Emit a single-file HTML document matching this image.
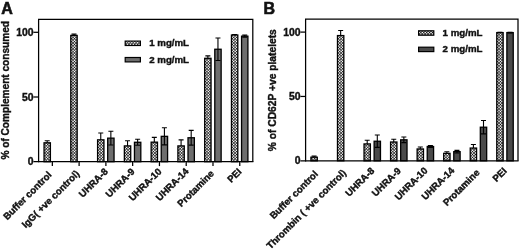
<!DOCTYPE html>
<html><head><meta charset="utf-8"><title>Figure</title>
<style>
html,body{margin:0;padding:0;background:#fff;}
body{width:520px;height:249px;overflow:hidden;}
svg{display:block;}
text{font-family:"Liberation Sans",Arial,sans-serif;font-weight:bold;fill:#111;stroke:#111;stroke-width:0.4px;}
.t{font-size:10.4px;}
.x{font-size:9.65px;}
.y{font-size:10px;}
.g{font-size:9.7px;}
.L{font-size:16px;stroke-width:0.6px;}
</style></head><body>
<svg width="520" height="249" viewBox="0 0 520 249">
<defs>

</defs>
<rect width="520" height="249" fill="#fff"/>
<path d="M47.21 140.74V144.88M44.71 140.74H49.71M44.71 144.88H49.71" stroke="#000" stroke-width="1.1" fill="none"/>
<clipPath id="c1"><rect x="44.04" y="142.81" width="6.35" height="18.89"/></clipPath><rect x="44.04" y="142.81" width="6.35" height="18.89" fill="#111"/><path clip-path="url(#c1)" d="M43.84 143.02l1 -1l1 1l-1 1zM46.74 143.02l1 -1l1 1l-1 1zM49.64 143.02l1 -1l1 1l-1 1zM42.39 144.45l1 -1l1 1l-1 1zM45.29 144.45l1 -1l1 1l-1 1zM48.19 144.45l1 -1l1 1l-1 1zM43.84 145.88l1 -1l1 1l-1 1zM46.74 145.88l1 -1l1 1l-1 1zM49.64 145.88l1 -1l1 1l-1 1zM42.39 147.31l1 -1l1 1l-1 1zM45.29 147.31l1 -1l1 1l-1 1zM48.19 147.31l1 -1l1 1l-1 1zM43.84 148.74l1 -1l1 1l-1 1zM46.74 148.74l1 -1l1 1l-1 1zM49.64 148.74l1 -1l1 1l-1 1zM42.39 150.16l1 -1l1 1l-1 1zM45.29 150.16l1 -1l1 1l-1 1zM48.19 150.16l1 -1l1 1l-1 1zM43.84 151.59l1 -1l1 1l-1 1zM46.74 151.59l1 -1l1 1l-1 1zM49.64 151.59l1 -1l1 1l-1 1zM42.39 153.02l1 -1l1 1l-1 1zM45.29 153.02l1 -1l1 1l-1 1zM48.19 153.02l1 -1l1 1l-1 1zM43.84 154.45l1 -1l1 1l-1 1zM46.74 154.45l1 -1l1 1l-1 1zM49.64 154.45l1 -1l1 1l-1 1zM42.39 155.88l1 -1l1 1l-1 1zM45.29 155.88l1 -1l1 1l-1 1zM48.19 155.88l1 -1l1 1l-1 1zM43.84 157.31l1 -1l1 1l-1 1zM46.74 157.31l1 -1l1 1l-1 1zM49.64 157.31l1 -1l1 1l-1 1zM42.39 158.74l1 -1l1 1l-1 1zM45.29 158.74l1 -1l1 1l-1 1zM48.19 158.74l1 -1l1 1l-1 1zM43.84 160.16l1 -1l1 1l-1 1zM46.74 160.16l1 -1l1 1l-1 1zM49.64 160.16l1 -1l1 1l-1 1zM42.39 161.59l1 -1l1 1l-1 1zM45.29 161.59l1 -1l1 1l-1 1zM48.19 161.59l1 -1l1 1l-1 1z" fill="#fff"/><rect x="44.04" y="142.81" width="6.35" height="18.89" fill="none" stroke="#000" stroke-width="1.30"/>
<path d="M73.99 34.11V36.70M71.49 34.11H76.49M71.49 36.70H76.49" stroke="#000" stroke-width="1.1" fill="none"/>
<clipPath id="c2"><rect x="70.81" y="35.41" width="6.35" height="126.29"/></clipPath><rect x="70.81" y="35.41" width="6.35" height="126.29" fill="#111"/><path clip-path="url(#c2)" d="M70.61 34.46l1 -1l1 1l-1 1zM73.51 34.46l1 -1l1 1l-1 1zM76.41 34.46l1 -1l1 1l-1 1zM69.16 35.88l1 -1l1 1l-1 1zM72.06 35.88l1 -1l1 1l-1 1zM74.96 35.88l1 -1l1 1l-1 1zM70.61 37.31l1 -1l1 1l-1 1zM73.51 37.31l1 -1l1 1l-1 1zM76.41 37.31l1 -1l1 1l-1 1zM69.16 38.74l1 -1l1 1l-1 1zM72.06 38.74l1 -1l1 1l-1 1zM74.96 38.74l1 -1l1 1l-1 1zM70.61 40.17l1 -1l1 1l-1 1zM73.51 40.17l1 -1l1 1l-1 1zM76.41 40.17l1 -1l1 1l-1 1zM69.16 41.60l1 -1l1 1l-1 1zM72.06 41.60l1 -1l1 1l-1 1zM74.96 41.60l1 -1l1 1l-1 1zM70.61 43.03l1 -1l1 1l-1 1zM73.51 43.03l1 -1l1 1l-1 1zM76.41 43.03l1 -1l1 1l-1 1zM69.16 44.46l1 -1l1 1l-1 1zM72.06 44.46l1 -1l1 1l-1 1zM74.96 44.46l1 -1l1 1l-1 1zM70.61 45.88l1 -1l1 1l-1 1zM73.51 45.88l1 -1l1 1l-1 1zM76.41 45.88l1 -1l1 1l-1 1zM69.16 47.31l1 -1l1 1l-1 1zM72.06 47.31l1 -1l1 1l-1 1zM74.96 47.31l1 -1l1 1l-1 1zM70.61 48.74l1 -1l1 1l-1 1zM73.51 48.74l1 -1l1 1l-1 1zM76.41 48.74l1 -1l1 1l-1 1zM69.16 50.17l1 -1l1 1l-1 1zM72.06 50.17l1 -1l1 1l-1 1zM74.96 50.17l1 -1l1 1l-1 1zM70.61 51.60l1 -1l1 1l-1 1zM73.51 51.60l1 -1l1 1l-1 1zM76.41 51.60l1 -1l1 1l-1 1zM69.16 53.03l1 -1l1 1l-1 1zM72.06 53.03l1 -1l1 1l-1 1zM74.96 53.03l1 -1l1 1l-1 1zM70.61 54.45l1 -1l1 1l-1 1zM73.51 54.45l1 -1l1 1l-1 1zM76.41 54.45l1 -1l1 1l-1 1zM69.16 55.88l1 -1l1 1l-1 1zM72.06 55.88l1 -1l1 1l-1 1zM74.96 55.88l1 -1l1 1l-1 1zM70.61 57.31l1 -1l1 1l-1 1zM73.51 57.31l1 -1l1 1l-1 1zM76.41 57.31l1 -1l1 1l-1 1zM69.16 58.74l1 -1l1 1l-1 1zM72.06 58.74l1 -1l1 1l-1 1zM74.96 58.74l1 -1l1 1l-1 1zM70.61 60.17l1 -1l1 1l-1 1zM73.51 60.17l1 -1l1 1l-1 1zM76.41 60.17l1 -1l1 1l-1 1zM69.16 61.60l1 -1l1 1l-1 1zM72.06 61.60l1 -1l1 1l-1 1zM74.96 61.60l1 -1l1 1l-1 1zM70.61 63.03l1 -1l1 1l-1 1zM73.51 63.03l1 -1l1 1l-1 1zM76.41 63.03l1 -1l1 1l-1 1zM69.16 64.45l1 -1l1 1l-1 1zM72.06 64.45l1 -1l1 1l-1 1zM74.96 64.45l1 -1l1 1l-1 1zM70.61 65.88l1 -1l1 1l-1 1zM73.51 65.88l1 -1l1 1l-1 1zM76.41 65.88l1 -1l1 1l-1 1zM69.16 67.31l1 -1l1 1l-1 1zM72.06 67.31l1 -1l1 1l-1 1zM74.96 67.31l1 -1l1 1l-1 1zM70.61 68.74l1 -1l1 1l-1 1zM73.51 68.74l1 -1l1 1l-1 1zM76.41 68.74l1 -1l1 1l-1 1zM69.16 70.17l1 -1l1 1l-1 1zM72.06 70.17l1 -1l1 1l-1 1zM74.96 70.17l1 -1l1 1l-1 1zM70.61 71.60l1 -1l1 1l-1 1zM73.51 71.60l1 -1l1 1l-1 1zM76.41 71.60l1 -1l1 1l-1 1zM69.16 73.03l1 -1l1 1l-1 1zM72.06 73.03l1 -1l1 1l-1 1zM74.96 73.03l1 -1l1 1l-1 1zM70.61 74.45l1 -1l1 1l-1 1zM73.51 74.45l1 -1l1 1l-1 1zM76.41 74.45l1 -1l1 1l-1 1zM69.16 75.88l1 -1l1 1l-1 1zM72.06 75.88l1 -1l1 1l-1 1zM74.96 75.88l1 -1l1 1l-1 1zM70.61 77.31l1 -1l1 1l-1 1zM73.51 77.31l1 -1l1 1l-1 1zM76.41 77.31l1 -1l1 1l-1 1zM69.16 78.74l1 -1l1 1l-1 1zM72.06 78.74l1 -1l1 1l-1 1zM74.96 78.74l1 -1l1 1l-1 1zM70.61 80.17l1 -1l1 1l-1 1zM73.51 80.17l1 -1l1 1l-1 1zM76.41 80.17l1 -1l1 1l-1 1zM69.16 81.60l1 -1l1 1l-1 1zM72.06 81.60l1 -1l1 1l-1 1zM74.96 81.60l1 -1l1 1l-1 1zM70.61 83.02l1 -1l1 1l-1 1zM73.51 83.02l1 -1l1 1l-1 1zM76.41 83.02l1 -1l1 1l-1 1zM69.16 84.45l1 -1l1 1l-1 1zM72.06 84.45l1 -1l1 1l-1 1zM74.96 84.45l1 -1l1 1l-1 1zM70.61 85.88l1 -1l1 1l-1 1zM73.51 85.88l1 -1l1 1l-1 1zM76.41 85.88l1 -1l1 1l-1 1zM69.16 87.31l1 -1l1 1l-1 1zM72.06 87.31l1 -1l1 1l-1 1zM74.96 87.31l1 -1l1 1l-1 1zM70.61 88.74l1 -1l1 1l-1 1zM73.51 88.74l1 -1l1 1l-1 1zM76.41 88.74l1 -1l1 1l-1 1zM69.16 90.17l1 -1l1 1l-1 1zM72.06 90.17l1 -1l1 1l-1 1zM74.96 90.17l1 -1l1 1l-1 1zM70.61 91.60l1 -1l1 1l-1 1zM73.51 91.60l1 -1l1 1l-1 1zM76.41 91.60l1 -1l1 1l-1 1zM69.16 93.02l1 -1l1 1l-1 1zM72.06 93.02l1 -1l1 1l-1 1zM74.96 93.02l1 -1l1 1l-1 1zM70.61 94.45l1 -1l1 1l-1 1zM73.51 94.45l1 -1l1 1l-1 1zM76.41 94.45l1 -1l1 1l-1 1zM69.16 95.88l1 -1l1 1l-1 1zM72.06 95.88l1 -1l1 1l-1 1zM74.96 95.88l1 -1l1 1l-1 1zM70.61 97.31l1 -1l1 1l-1 1zM73.51 97.31l1 -1l1 1l-1 1zM76.41 97.31l1 -1l1 1l-1 1zM69.16 98.74l1 -1l1 1l-1 1zM72.06 98.74l1 -1l1 1l-1 1zM74.96 98.74l1 -1l1 1l-1 1zM70.61 100.17l1 -1l1 1l-1 1zM73.51 100.17l1 -1l1 1l-1 1zM76.41 100.17l1 -1l1 1l-1 1zM69.16 101.59l1 -1l1 1l-1 1zM72.06 101.59l1 -1l1 1l-1 1zM74.96 101.59l1 -1l1 1l-1 1zM70.61 103.02l1 -1l1 1l-1 1zM73.51 103.02l1 -1l1 1l-1 1zM76.41 103.02l1 -1l1 1l-1 1zM69.16 104.45l1 -1l1 1l-1 1zM72.06 104.45l1 -1l1 1l-1 1zM74.96 104.45l1 -1l1 1l-1 1zM70.61 105.88l1 -1l1 1l-1 1zM73.51 105.88l1 -1l1 1l-1 1zM76.41 105.88l1 -1l1 1l-1 1zM69.16 107.31l1 -1l1 1l-1 1zM72.06 107.31l1 -1l1 1l-1 1zM74.96 107.31l1 -1l1 1l-1 1zM70.61 108.74l1 -1l1 1l-1 1zM73.51 108.74l1 -1l1 1l-1 1zM76.41 108.74l1 -1l1 1l-1 1zM69.16 110.17l1 -1l1 1l-1 1zM72.06 110.17l1 -1l1 1l-1 1zM74.96 110.17l1 -1l1 1l-1 1zM70.61 111.59l1 -1l1 1l-1 1zM73.51 111.59l1 -1l1 1l-1 1zM76.41 111.59l1 -1l1 1l-1 1zM69.16 113.02l1 -1l1 1l-1 1zM72.06 113.02l1 -1l1 1l-1 1zM74.96 113.02l1 -1l1 1l-1 1zM70.61 114.45l1 -1l1 1l-1 1zM73.51 114.45l1 -1l1 1l-1 1zM76.41 114.45l1 -1l1 1l-1 1zM69.16 115.88l1 -1l1 1l-1 1zM72.06 115.88l1 -1l1 1l-1 1zM74.96 115.88l1 -1l1 1l-1 1zM70.61 117.31l1 -1l1 1l-1 1zM73.51 117.31l1 -1l1 1l-1 1zM76.41 117.31l1 -1l1 1l-1 1zM69.16 118.74l1 -1l1 1l-1 1zM72.06 118.74l1 -1l1 1l-1 1zM74.96 118.74l1 -1l1 1l-1 1zM70.61 120.17l1 -1l1 1l-1 1zM73.51 120.17l1 -1l1 1l-1 1zM76.41 120.17l1 -1l1 1l-1 1zM69.16 121.59l1 -1l1 1l-1 1zM72.06 121.59l1 -1l1 1l-1 1zM74.96 121.59l1 -1l1 1l-1 1zM70.61 123.02l1 -1l1 1l-1 1zM73.51 123.02l1 -1l1 1l-1 1zM76.41 123.02l1 -1l1 1l-1 1zM69.16 124.45l1 -1l1 1l-1 1zM72.06 124.45l1 -1l1 1l-1 1zM74.96 124.45l1 -1l1 1l-1 1zM70.61 125.88l1 -1l1 1l-1 1zM73.51 125.88l1 -1l1 1l-1 1zM76.41 125.88l1 -1l1 1l-1 1zM69.16 127.31l1 -1l1 1l-1 1zM72.06 127.31l1 -1l1 1l-1 1zM74.96 127.31l1 -1l1 1l-1 1zM70.61 128.74l1 -1l1 1l-1 1zM73.51 128.74l1 -1l1 1l-1 1zM76.41 128.74l1 -1l1 1l-1 1zM69.16 130.16l1 -1l1 1l-1 1zM72.06 130.16l1 -1l1 1l-1 1zM74.96 130.16l1 -1l1 1l-1 1zM70.61 131.59l1 -1l1 1l-1 1zM73.51 131.59l1 -1l1 1l-1 1zM76.41 131.59l1 -1l1 1l-1 1zM69.16 133.02l1 -1l1 1l-1 1zM72.06 133.02l1 -1l1 1l-1 1zM74.96 133.02l1 -1l1 1l-1 1zM70.61 134.45l1 -1l1 1l-1 1zM73.51 134.45l1 -1l1 1l-1 1zM76.41 134.45l1 -1l1 1l-1 1zM69.16 135.88l1 -1l1 1l-1 1zM72.06 135.88l1 -1l1 1l-1 1zM74.96 135.88l1 -1l1 1l-1 1zM70.61 137.31l1 -1l1 1l-1 1zM73.51 137.31l1 -1l1 1l-1 1zM76.41 137.31l1 -1l1 1l-1 1zM69.16 138.74l1 -1l1 1l-1 1zM72.06 138.74l1 -1l1 1l-1 1zM74.96 138.74l1 -1l1 1l-1 1zM70.61 140.16l1 -1l1 1l-1 1zM73.51 140.16l1 -1l1 1l-1 1zM76.41 140.16l1 -1l1 1l-1 1zM69.16 141.59l1 -1l1 1l-1 1zM72.06 141.59l1 -1l1 1l-1 1zM74.96 141.59l1 -1l1 1l-1 1zM70.61 143.02l1 -1l1 1l-1 1zM73.51 143.02l1 -1l1 1l-1 1zM76.41 143.02l1 -1l1 1l-1 1zM69.16 144.45l1 -1l1 1l-1 1zM72.06 144.45l1 -1l1 1l-1 1zM74.96 144.45l1 -1l1 1l-1 1zM70.61 145.88l1 -1l1 1l-1 1zM73.51 145.88l1 -1l1 1l-1 1zM76.41 145.88l1 -1l1 1l-1 1zM69.16 147.31l1 -1l1 1l-1 1zM72.06 147.31l1 -1l1 1l-1 1zM74.96 147.31l1 -1l1 1l-1 1zM70.61 148.74l1 -1l1 1l-1 1zM73.51 148.74l1 -1l1 1l-1 1zM76.41 148.74l1 -1l1 1l-1 1zM69.16 150.16l1 -1l1 1l-1 1zM72.06 150.16l1 -1l1 1l-1 1zM74.96 150.16l1 -1l1 1l-1 1zM70.61 151.59l1 -1l1 1l-1 1zM73.51 151.59l1 -1l1 1l-1 1zM76.41 151.59l1 -1l1 1l-1 1zM69.16 153.02l1 -1l1 1l-1 1zM72.06 153.02l1 -1l1 1l-1 1zM74.96 153.02l1 -1l1 1l-1 1zM70.61 154.45l1 -1l1 1l-1 1zM73.51 154.45l1 -1l1 1l-1 1zM76.41 154.45l1 -1l1 1l-1 1zM69.16 155.88l1 -1l1 1l-1 1zM72.06 155.88l1 -1l1 1l-1 1zM74.96 155.88l1 -1l1 1l-1 1zM70.61 157.31l1 -1l1 1l-1 1zM73.51 157.31l1 -1l1 1l-1 1zM76.41 157.31l1 -1l1 1l-1 1zM69.16 158.74l1 -1l1 1l-1 1zM72.06 158.74l1 -1l1 1l-1 1zM74.96 158.74l1 -1l1 1l-1 1zM70.61 160.16l1 -1l1 1l-1 1zM73.51 160.16l1 -1l1 1l-1 1zM76.41 160.16l1 -1l1 1l-1 1zM69.16 161.59l1 -1l1 1l-1 1zM72.06 161.59l1 -1l1 1l-1 1zM74.96 161.59l1 -1l1 1l-1 1z" fill="#fff"/><rect x="70.81" y="35.41" width="6.35" height="126.29" fill="none" stroke="#000" stroke-width="1.30"/>
<path d="M100.76 132.97V146.69M98.26 132.97H103.26M98.26 146.69H103.26" stroke="#000" stroke-width="1.1" fill="none"/>
<clipPath id="c3"><rect x="97.59" y="139.83" width="6.35" height="21.87"/></clipPath><rect x="97.59" y="139.83" width="6.35" height="21.87" fill="#111"/><path clip-path="url(#c3)" d="M97.39 140.16l1 -1l1 1l-1 1zM100.29 140.16l1 -1l1 1l-1 1zM103.19 140.16l1 -1l1 1l-1 1zM95.94 141.59l1 -1l1 1l-1 1zM98.84 141.59l1 -1l1 1l-1 1zM101.74 141.59l1 -1l1 1l-1 1zM97.39 143.02l1 -1l1 1l-1 1zM100.29 143.02l1 -1l1 1l-1 1zM103.19 143.02l1 -1l1 1l-1 1zM95.94 144.45l1 -1l1 1l-1 1zM98.84 144.45l1 -1l1 1l-1 1zM101.74 144.45l1 -1l1 1l-1 1zM97.39 145.88l1 -1l1 1l-1 1zM100.29 145.88l1 -1l1 1l-1 1zM103.19 145.88l1 -1l1 1l-1 1zM95.94 147.31l1 -1l1 1l-1 1zM98.84 147.31l1 -1l1 1l-1 1zM101.74 147.31l1 -1l1 1l-1 1zM97.39 148.74l1 -1l1 1l-1 1zM100.29 148.74l1 -1l1 1l-1 1zM103.19 148.74l1 -1l1 1l-1 1zM95.94 150.16l1 -1l1 1l-1 1zM98.84 150.16l1 -1l1 1l-1 1zM101.74 150.16l1 -1l1 1l-1 1zM97.39 151.59l1 -1l1 1l-1 1zM100.29 151.59l1 -1l1 1l-1 1zM103.19 151.59l1 -1l1 1l-1 1zM95.94 153.02l1 -1l1 1l-1 1zM98.84 153.02l1 -1l1 1l-1 1zM101.74 153.02l1 -1l1 1l-1 1zM97.39 154.45l1 -1l1 1l-1 1zM100.29 154.45l1 -1l1 1l-1 1zM103.19 154.45l1 -1l1 1l-1 1zM95.94 155.88l1 -1l1 1l-1 1zM98.84 155.88l1 -1l1 1l-1 1zM101.74 155.88l1 -1l1 1l-1 1zM97.39 157.31l1 -1l1 1l-1 1zM100.29 157.31l1 -1l1 1l-1 1zM103.19 157.31l1 -1l1 1l-1 1zM95.94 158.74l1 -1l1 1l-1 1zM98.84 158.74l1 -1l1 1l-1 1zM101.74 158.74l1 -1l1 1l-1 1zM97.39 160.16l1 -1l1 1l-1 1zM100.29 160.16l1 -1l1 1l-1 1zM103.19 160.16l1 -1l1 1l-1 1zM95.94 161.59l1 -1l1 1l-1 1zM98.84 161.59l1 -1l1 1l-1 1zM101.74 161.59l1 -1l1 1l-1 1z" fill="#fff"/><rect x="97.59" y="139.83" width="6.35" height="21.87" fill="none" stroke="#000" stroke-width="1.30"/>
<path d="M110.86 131.29V145.01M108.36 131.29H113.36M108.36 145.01H113.36" stroke="#000" stroke-width="1.1" fill="none"/>
<rect x="107.69" y="138.15" width="6.35" height="23.55" fill="#6e6e6e" stroke="#000" stroke-width="1.30"/>
<path d="M110.86 138.15V145.01M108.36 145.01H113.36" stroke="#000" stroke-width="1.1" fill="none"/>
<path d="M127.54 140.74V151.09M125.04 140.74H130.04M125.04 151.09H130.04" stroke="#000" stroke-width="1.1" fill="none"/>
<clipPath id="c4"><rect x="124.36" y="145.91" width="6.35" height="15.79"/></clipPath><rect x="124.36" y="145.91" width="6.35" height="15.79" fill="#111"/><path clip-path="url(#c4)" d="M124.16 145.88l1 -1l1 1l-1 1zM127.06 145.88l1 -1l1 1l-1 1zM129.96 145.88l1 -1l1 1l-1 1zM122.71 147.31l1 -1l1 1l-1 1zM125.61 147.31l1 -1l1 1l-1 1zM128.51 147.31l1 -1l1 1l-1 1zM124.16 148.74l1 -1l1 1l-1 1zM127.06 148.74l1 -1l1 1l-1 1zM129.96 148.74l1 -1l1 1l-1 1zM122.71 150.16l1 -1l1 1l-1 1zM125.61 150.16l1 -1l1 1l-1 1zM128.51 150.16l1 -1l1 1l-1 1zM124.16 151.59l1 -1l1 1l-1 1zM127.06 151.59l1 -1l1 1l-1 1zM129.96 151.59l1 -1l1 1l-1 1zM122.71 153.02l1 -1l1 1l-1 1zM125.61 153.02l1 -1l1 1l-1 1zM128.51 153.02l1 -1l1 1l-1 1zM124.16 154.45l1 -1l1 1l-1 1zM127.06 154.45l1 -1l1 1l-1 1zM129.96 154.45l1 -1l1 1l-1 1zM122.71 155.88l1 -1l1 1l-1 1zM125.61 155.88l1 -1l1 1l-1 1zM128.51 155.88l1 -1l1 1l-1 1zM124.16 157.31l1 -1l1 1l-1 1zM127.06 157.31l1 -1l1 1l-1 1zM129.96 157.31l1 -1l1 1l-1 1zM122.71 158.74l1 -1l1 1l-1 1zM125.61 158.74l1 -1l1 1l-1 1zM128.51 158.74l1 -1l1 1l-1 1zM124.16 160.16l1 -1l1 1l-1 1zM127.06 160.16l1 -1l1 1l-1 1zM129.96 160.16l1 -1l1 1l-1 1zM122.71 161.59l1 -1l1 1l-1 1zM125.61 161.59l1 -1l1 1l-1 1zM128.51 161.59l1 -1l1 1l-1 1z" fill="#fff"/><rect x="124.36" y="145.91" width="6.35" height="15.79" fill="none" stroke="#000" stroke-width="1.30"/>
<path d="M137.64 139.31V145.27M135.14 139.31H140.14M135.14 145.27H140.14" stroke="#000" stroke-width="1.1" fill="none"/>
<rect x="134.46" y="142.29" width="6.35" height="19.41" fill="#6e6e6e" stroke="#000" stroke-width="1.30"/>
<path d="M137.64 142.29V145.27M135.14 145.27H140.14" stroke="#000" stroke-width="1.1" fill="none"/>
<path d="M154.31 137.37V146.95M151.81 137.37H156.81M151.81 146.95H156.81" stroke="#000" stroke-width="1.1" fill="none"/>
<clipPath id="c5"><rect x="151.14" y="142.16" width="6.35" height="19.54"/></clipPath><rect x="151.14" y="142.16" width="6.35" height="19.54" fill="#111"/><path clip-path="url(#c5)" d="M149.49 141.59l1 -1l1 1l-1 1zM152.39 141.59l1 -1l1 1l-1 1zM155.29 141.59l1 -1l1 1l-1 1zM150.94 143.02l1 -1l1 1l-1 1zM153.84 143.02l1 -1l1 1l-1 1zM156.74 143.02l1 -1l1 1l-1 1zM149.49 144.45l1 -1l1 1l-1 1zM152.39 144.45l1 -1l1 1l-1 1zM155.29 144.45l1 -1l1 1l-1 1zM150.94 145.88l1 -1l1 1l-1 1zM153.84 145.88l1 -1l1 1l-1 1zM156.74 145.88l1 -1l1 1l-1 1zM149.49 147.31l1 -1l1 1l-1 1zM152.39 147.31l1 -1l1 1l-1 1zM155.29 147.31l1 -1l1 1l-1 1zM150.94 148.74l1 -1l1 1l-1 1zM153.84 148.74l1 -1l1 1l-1 1zM156.74 148.74l1 -1l1 1l-1 1zM149.49 150.16l1 -1l1 1l-1 1zM152.39 150.16l1 -1l1 1l-1 1zM155.29 150.16l1 -1l1 1l-1 1zM150.94 151.59l1 -1l1 1l-1 1zM153.84 151.59l1 -1l1 1l-1 1zM156.74 151.59l1 -1l1 1l-1 1zM149.49 153.02l1 -1l1 1l-1 1zM152.39 153.02l1 -1l1 1l-1 1zM155.29 153.02l1 -1l1 1l-1 1zM150.94 154.45l1 -1l1 1l-1 1zM153.84 154.45l1 -1l1 1l-1 1zM156.74 154.45l1 -1l1 1l-1 1zM149.49 155.88l1 -1l1 1l-1 1zM152.39 155.88l1 -1l1 1l-1 1zM155.29 155.88l1 -1l1 1l-1 1zM150.94 157.31l1 -1l1 1l-1 1zM153.84 157.31l1 -1l1 1l-1 1zM156.74 157.31l1 -1l1 1l-1 1zM149.49 158.74l1 -1l1 1l-1 1zM152.39 158.74l1 -1l1 1l-1 1zM155.29 158.74l1 -1l1 1l-1 1zM150.94 160.16l1 -1l1 1l-1 1zM153.84 160.16l1 -1l1 1l-1 1zM156.74 160.16l1 -1l1 1l-1 1zM149.49 161.59l1 -1l1 1l-1 1zM152.39 161.59l1 -1l1 1l-1 1zM155.29 161.59l1 -1l1 1l-1 1z" fill="#fff"/><rect x="151.14" y="142.16" width="6.35" height="19.54" fill="none" stroke="#000" stroke-width="1.30"/>
<path d="M164.41 127.80V144.88M161.91 127.80H166.91M161.91 144.88H166.91" stroke="#000" stroke-width="1.1" fill="none"/>
<rect x="161.24" y="136.34" width="6.35" height="25.36" fill="#6e6e6e" stroke="#000" stroke-width="1.30"/>
<path d="M164.41 136.34V144.88M161.91 144.88H166.91" stroke="#000" stroke-width="1.1" fill="none"/>
<path d="M181.09 139.83V151.99M178.59 139.83H183.59M178.59 151.99H183.59" stroke="#000" stroke-width="1.1" fill="none"/>
<clipPath id="c6"><rect x="177.91" y="145.91" width="6.35" height="15.79"/></clipPath><rect x="177.91" y="145.91" width="6.35" height="15.79" fill="#111"/><path clip-path="url(#c6)" d="M177.71 145.88l1 -1l1 1l-1 1zM180.61 145.88l1 -1l1 1l-1 1zM183.51 145.88l1 -1l1 1l-1 1zM176.26 147.31l1 -1l1 1l-1 1zM179.16 147.31l1 -1l1 1l-1 1zM182.06 147.31l1 -1l1 1l-1 1zM177.71 148.74l1 -1l1 1l-1 1zM180.61 148.74l1 -1l1 1l-1 1zM183.51 148.74l1 -1l1 1l-1 1zM176.26 150.16l1 -1l1 1l-1 1zM179.16 150.16l1 -1l1 1l-1 1zM182.06 150.16l1 -1l1 1l-1 1zM177.71 151.59l1 -1l1 1l-1 1zM180.61 151.59l1 -1l1 1l-1 1zM183.51 151.59l1 -1l1 1l-1 1zM176.26 153.02l1 -1l1 1l-1 1zM179.16 153.02l1 -1l1 1l-1 1zM182.06 153.02l1 -1l1 1l-1 1zM177.71 154.45l1 -1l1 1l-1 1zM180.61 154.45l1 -1l1 1l-1 1zM183.51 154.45l1 -1l1 1l-1 1zM176.26 155.88l1 -1l1 1l-1 1zM179.16 155.88l1 -1l1 1l-1 1zM182.06 155.88l1 -1l1 1l-1 1zM177.71 157.31l1 -1l1 1l-1 1zM180.61 157.31l1 -1l1 1l-1 1zM183.51 157.31l1 -1l1 1l-1 1zM176.26 158.74l1 -1l1 1l-1 1zM179.16 158.74l1 -1l1 1l-1 1zM182.06 158.74l1 -1l1 1l-1 1zM177.71 160.16l1 -1l1 1l-1 1zM180.61 160.16l1 -1l1 1l-1 1zM183.51 160.16l1 -1l1 1l-1 1zM176.26 161.59l1 -1l1 1l-1 1zM179.16 161.59l1 -1l1 1l-1 1zM182.06 161.59l1 -1l1 1l-1 1z" fill="#fff"/><rect x="177.91" y="145.91" width="6.35" height="15.79" fill="none" stroke="#000" stroke-width="1.30"/>
<path d="M191.19 130.39V145.14M188.69 130.39H193.69M188.69 145.14H193.69" stroke="#000" stroke-width="1.1" fill="none"/>
<rect x="188.01" y="137.76" width="6.35" height="23.94" fill="#6e6e6e" stroke="#000" stroke-width="1.30"/>
<path d="M191.19 137.76V145.14M188.69 145.14H193.69" stroke="#000" stroke-width="1.1" fill="none"/>
<path d="M207.86 55.85V60.77M205.36 55.85H210.36M205.36 60.77H210.36" stroke="#000" stroke-width="1.1" fill="none"/>
<clipPath id="c7"><rect x="204.69" y="58.31" width="6.35" height="103.39"/></clipPath><rect x="204.69" y="58.31" width="6.35" height="103.39" fill="#111"/><path clip-path="url(#c7)" d="M204.49 57.31l1 -1l1 1l-1 1zM207.39 57.31l1 -1l1 1l-1 1zM210.29 57.31l1 -1l1 1l-1 1zM203.04 58.74l1 -1l1 1l-1 1zM205.94 58.74l1 -1l1 1l-1 1zM208.84 58.74l1 -1l1 1l-1 1zM204.49 60.17l1 -1l1 1l-1 1zM207.39 60.17l1 -1l1 1l-1 1zM210.29 60.17l1 -1l1 1l-1 1zM203.04 61.60l1 -1l1 1l-1 1zM205.94 61.60l1 -1l1 1l-1 1zM208.84 61.60l1 -1l1 1l-1 1zM204.49 63.03l1 -1l1 1l-1 1zM207.39 63.03l1 -1l1 1l-1 1zM210.29 63.03l1 -1l1 1l-1 1zM203.04 64.45l1 -1l1 1l-1 1zM205.94 64.45l1 -1l1 1l-1 1zM208.84 64.45l1 -1l1 1l-1 1zM204.49 65.88l1 -1l1 1l-1 1zM207.39 65.88l1 -1l1 1l-1 1zM210.29 65.88l1 -1l1 1l-1 1zM203.04 67.31l1 -1l1 1l-1 1zM205.94 67.31l1 -1l1 1l-1 1zM208.84 67.31l1 -1l1 1l-1 1zM204.49 68.74l1 -1l1 1l-1 1zM207.39 68.74l1 -1l1 1l-1 1zM210.29 68.74l1 -1l1 1l-1 1zM203.04 70.17l1 -1l1 1l-1 1zM205.94 70.17l1 -1l1 1l-1 1zM208.84 70.17l1 -1l1 1l-1 1zM204.49 71.60l1 -1l1 1l-1 1zM207.39 71.60l1 -1l1 1l-1 1zM210.29 71.60l1 -1l1 1l-1 1zM203.04 73.03l1 -1l1 1l-1 1zM205.94 73.03l1 -1l1 1l-1 1zM208.84 73.03l1 -1l1 1l-1 1zM204.49 74.45l1 -1l1 1l-1 1zM207.39 74.45l1 -1l1 1l-1 1zM210.29 74.45l1 -1l1 1l-1 1zM203.04 75.88l1 -1l1 1l-1 1zM205.94 75.88l1 -1l1 1l-1 1zM208.84 75.88l1 -1l1 1l-1 1zM204.49 77.31l1 -1l1 1l-1 1zM207.39 77.31l1 -1l1 1l-1 1zM210.29 77.31l1 -1l1 1l-1 1zM203.04 78.74l1 -1l1 1l-1 1zM205.94 78.74l1 -1l1 1l-1 1zM208.84 78.74l1 -1l1 1l-1 1zM204.49 80.17l1 -1l1 1l-1 1zM207.39 80.17l1 -1l1 1l-1 1zM210.29 80.17l1 -1l1 1l-1 1zM203.04 81.60l1 -1l1 1l-1 1zM205.94 81.60l1 -1l1 1l-1 1zM208.84 81.60l1 -1l1 1l-1 1zM204.49 83.02l1 -1l1 1l-1 1zM207.39 83.02l1 -1l1 1l-1 1zM210.29 83.02l1 -1l1 1l-1 1zM203.04 84.45l1 -1l1 1l-1 1zM205.94 84.45l1 -1l1 1l-1 1zM208.84 84.45l1 -1l1 1l-1 1zM204.49 85.88l1 -1l1 1l-1 1zM207.39 85.88l1 -1l1 1l-1 1zM210.29 85.88l1 -1l1 1l-1 1zM203.04 87.31l1 -1l1 1l-1 1zM205.94 87.31l1 -1l1 1l-1 1zM208.84 87.31l1 -1l1 1l-1 1zM204.49 88.74l1 -1l1 1l-1 1zM207.39 88.74l1 -1l1 1l-1 1zM210.29 88.74l1 -1l1 1l-1 1zM203.04 90.17l1 -1l1 1l-1 1zM205.94 90.17l1 -1l1 1l-1 1zM208.84 90.17l1 -1l1 1l-1 1zM204.49 91.60l1 -1l1 1l-1 1zM207.39 91.60l1 -1l1 1l-1 1zM210.29 91.60l1 -1l1 1l-1 1zM203.04 93.02l1 -1l1 1l-1 1zM205.94 93.02l1 -1l1 1l-1 1zM208.84 93.02l1 -1l1 1l-1 1zM204.49 94.45l1 -1l1 1l-1 1zM207.39 94.45l1 -1l1 1l-1 1zM210.29 94.45l1 -1l1 1l-1 1zM203.04 95.88l1 -1l1 1l-1 1zM205.94 95.88l1 -1l1 1l-1 1zM208.84 95.88l1 -1l1 1l-1 1zM204.49 97.31l1 -1l1 1l-1 1zM207.39 97.31l1 -1l1 1l-1 1zM210.29 97.31l1 -1l1 1l-1 1zM203.04 98.74l1 -1l1 1l-1 1zM205.94 98.74l1 -1l1 1l-1 1zM208.84 98.74l1 -1l1 1l-1 1zM204.49 100.17l1 -1l1 1l-1 1zM207.39 100.17l1 -1l1 1l-1 1zM210.29 100.17l1 -1l1 1l-1 1zM203.04 101.59l1 -1l1 1l-1 1zM205.94 101.59l1 -1l1 1l-1 1zM208.84 101.59l1 -1l1 1l-1 1zM204.49 103.02l1 -1l1 1l-1 1zM207.39 103.02l1 -1l1 1l-1 1zM210.29 103.02l1 -1l1 1l-1 1zM203.04 104.45l1 -1l1 1l-1 1zM205.94 104.45l1 -1l1 1l-1 1zM208.84 104.45l1 -1l1 1l-1 1zM204.49 105.88l1 -1l1 1l-1 1zM207.39 105.88l1 -1l1 1l-1 1zM210.29 105.88l1 -1l1 1l-1 1zM203.04 107.31l1 -1l1 1l-1 1zM205.94 107.31l1 -1l1 1l-1 1zM208.84 107.31l1 -1l1 1l-1 1zM204.49 108.74l1 -1l1 1l-1 1zM207.39 108.74l1 -1l1 1l-1 1zM210.29 108.74l1 -1l1 1l-1 1zM203.04 110.17l1 -1l1 1l-1 1zM205.94 110.17l1 -1l1 1l-1 1zM208.84 110.17l1 -1l1 1l-1 1zM204.49 111.59l1 -1l1 1l-1 1zM207.39 111.59l1 -1l1 1l-1 1zM210.29 111.59l1 -1l1 1l-1 1zM203.04 113.02l1 -1l1 1l-1 1zM205.94 113.02l1 -1l1 1l-1 1zM208.84 113.02l1 -1l1 1l-1 1zM204.49 114.45l1 -1l1 1l-1 1zM207.39 114.45l1 -1l1 1l-1 1zM210.29 114.45l1 -1l1 1l-1 1zM203.04 115.88l1 -1l1 1l-1 1zM205.94 115.88l1 -1l1 1l-1 1zM208.84 115.88l1 -1l1 1l-1 1zM204.49 117.31l1 -1l1 1l-1 1zM207.39 117.31l1 -1l1 1l-1 1zM210.29 117.31l1 -1l1 1l-1 1zM203.04 118.74l1 -1l1 1l-1 1zM205.94 118.74l1 -1l1 1l-1 1zM208.84 118.74l1 -1l1 1l-1 1zM204.49 120.17l1 -1l1 1l-1 1zM207.39 120.17l1 -1l1 1l-1 1zM210.29 120.17l1 -1l1 1l-1 1zM203.04 121.59l1 -1l1 1l-1 1zM205.94 121.59l1 -1l1 1l-1 1zM208.84 121.59l1 -1l1 1l-1 1zM204.49 123.02l1 -1l1 1l-1 1zM207.39 123.02l1 -1l1 1l-1 1zM210.29 123.02l1 -1l1 1l-1 1zM203.04 124.45l1 -1l1 1l-1 1zM205.94 124.45l1 -1l1 1l-1 1zM208.84 124.45l1 -1l1 1l-1 1zM204.49 125.88l1 -1l1 1l-1 1zM207.39 125.88l1 -1l1 1l-1 1zM210.29 125.88l1 -1l1 1l-1 1zM203.04 127.31l1 -1l1 1l-1 1zM205.94 127.31l1 -1l1 1l-1 1zM208.84 127.31l1 -1l1 1l-1 1zM204.49 128.74l1 -1l1 1l-1 1zM207.39 128.74l1 -1l1 1l-1 1zM210.29 128.74l1 -1l1 1l-1 1zM203.04 130.16l1 -1l1 1l-1 1zM205.94 130.16l1 -1l1 1l-1 1zM208.84 130.16l1 -1l1 1l-1 1zM204.49 131.59l1 -1l1 1l-1 1zM207.39 131.59l1 -1l1 1l-1 1zM210.29 131.59l1 -1l1 1l-1 1zM203.04 133.02l1 -1l1 1l-1 1zM205.94 133.02l1 -1l1 1l-1 1zM208.84 133.02l1 -1l1 1l-1 1zM204.49 134.45l1 -1l1 1l-1 1zM207.39 134.45l1 -1l1 1l-1 1zM210.29 134.45l1 -1l1 1l-1 1zM203.04 135.88l1 -1l1 1l-1 1zM205.94 135.88l1 -1l1 1l-1 1zM208.84 135.88l1 -1l1 1l-1 1zM204.49 137.31l1 -1l1 1l-1 1zM207.39 137.31l1 -1l1 1l-1 1zM210.29 137.31l1 -1l1 1l-1 1zM203.04 138.74l1 -1l1 1l-1 1zM205.94 138.74l1 -1l1 1l-1 1zM208.84 138.74l1 -1l1 1l-1 1zM204.49 140.16l1 -1l1 1l-1 1zM207.39 140.16l1 -1l1 1l-1 1zM210.29 140.16l1 -1l1 1l-1 1zM203.04 141.59l1 -1l1 1l-1 1zM205.94 141.59l1 -1l1 1l-1 1zM208.84 141.59l1 -1l1 1l-1 1zM204.49 143.02l1 -1l1 1l-1 1zM207.39 143.02l1 -1l1 1l-1 1zM210.29 143.02l1 -1l1 1l-1 1zM203.04 144.45l1 -1l1 1l-1 1zM205.94 144.45l1 -1l1 1l-1 1zM208.84 144.45l1 -1l1 1l-1 1zM204.49 145.88l1 -1l1 1l-1 1zM207.39 145.88l1 -1l1 1l-1 1zM210.29 145.88l1 -1l1 1l-1 1zM203.04 147.31l1 -1l1 1l-1 1zM205.94 147.31l1 -1l1 1l-1 1zM208.84 147.31l1 -1l1 1l-1 1zM204.49 148.74l1 -1l1 1l-1 1zM207.39 148.74l1 -1l1 1l-1 1zM210.29 148.74l1 -1l1 1l-1 1zM203.04 150.16l1 -1l1 1l-1 1zM205.94 150.16l1 -1l1 1l-1 1zM208.84 150.16l1 -1l1 1l-1 1zM204.49 151.59l1 -1l1 1l-1 1zM207.39 151.59l1 -1l1 1l-1 1zM210.29 151.59l1 -1l1 1l-1 1zM203.04 153.02l1 -1l1 1l-1 1zM205.94 153.02l1 -1l1 1l-1 1zM208.84 153.02l1 -1l1 1l-1 1zM204.49 154.45l1 -1l1 1l-1 1zM207.39 154.45l1 -1l1 1l-1 1zM210.29 154.45l1 -1l1 1l-1 1zM203.04 155.88l1 -1l1 1l-1 1zM205.94 155.88l1 -1l1 1l-1 1zM208.84 155.88l1 -1l1 1l-1 1zM204.49 157.31l1 -1l1 1l-1 1zM207.39 157.31l1 -1l1 1l-1 1zM210.29 157.31l1 -1l1 1l-1 1zM203.04 158.74l1 -1l1 1l-1 1zM205.94 158.74l1 -1l1 1l-1 1zM208.84 158.74l1 -1l1 1l-1 1zM204.49 160.16l1 -1l1 1l-1 1zM207.39 160.16l1 -1l1 1l-1 1zM210.29 160.16l1 -1l1 1l-1 1zM203.04 161.59l1 -1l1 1l-1 1zM205.94 161.59l1 -1l1 1l-1 1zM208.84 161.59l1 -1l1 1l-1 1z" fill="#fff"/><rect x="204.69" y="58.31" width="6.35" height="103.39" fill="none" stroke="#000" stroke-width="1.30"/>
<path d="M217.96 37.99V60.51M215.46 37.99H220.46M215.46 60.51H220.46" stroke="#000" stroke-width="1.1" fill="none"/>
<rect x="214.79" y="49.25" width="6.35" height="112.45" fill="#6e6e6e" stroke="#000" stroke-width="1.30"/>
<path d="M217.96 49.25V60.51M215.46 60.51H220.46" stroke="#000" stroke-width="1.1" fill="none"/>
<path d="M234.64 34.63V35.41M232.14 34.63H237.14M232.14 35.41H237.14" stroke="#000" stroke-width="1.1" fill="none"/>
<clipPath id="c8"><rect x="231.46" y="35.02" width="6.35" height="126.68"/></clipPath><rect x="231.46" y="35.02" width="6.35" height="126.68" fill="#111"/><path clip-path="url(#c8)" d="M231.26 34.46l1 -1l1 1l-1 1zM234.16 34.46l1 -1l1 1l-1 1zM237.06 34.46l1 -1l1 1l-1 1zM229.81 35.88l1 -1l1 1l-1 1zM232.71 35.88l1 -1l1 1l-1 1zM235.61 35.88l1 -1l1 1l-1 1zM231.26 37.31l1 -1l1 1l-1 1zM234.16 37.31l1 -1l1 1l-1 1zM237.06 37.31l1 -1l1 1l-1 1zM229.81 38.74l1 -1l1 1l-1 1zM232.71 38.74l1 -1l1 1l-1 1zM235.61 38.74l1 -1l1 1l-1 1zM231.26 40.17l1 -1l1 1l-1 1zM234.16 40.17l1 -1l1 1l-1 1zM237.06 40.17l1 -1l1 1l-1 1zM229.81 41.60l1 -1l1 1l-1 1zM232.71 41.60l1 -1l1 1l-1 1zM235.61 41.60l1 -1l1 1l-1 1zM231.26 43.03l1 -1l1 1l-1 1zM234.16 43.03l1 -1l1 1l-1 1zM237.06 43.03l1 -1l1 1l-1 1zM229.81 44.46l1 -1l1 1l-1 1zM232.71 44.46l1 -1l1 1l-1 1zM235.61 44.46l1 -1l1 1l-1 1zM231.26 45.88l1 -1l1 1l-1 1zM234.16 45.88l1 -1l1 1l-1 1zM237.06 45.88l1 -1l1 1l-1 1zM229.81 47.31l1 -1l1 1l-1 1zM232.71 47.31l1 -1l1 1l-1 1zM235.61 47.31l1 -1l1 1l-1 1zM231.26 48.74l1 -1l1 1l-1 1zM234.16 48.74l1 -1l1 1l-1 1zM237.06 48.74l1 -1l1 1l-1 1zM229.81 50.17l1 -1l1 1l-1 1zM232.71 50.17l1 -1l1 1l-1 1zM235.61 50.17l1 -1l1 1l-1 1zM231.26 51.60l1 -1l1 1l-1 1zM234.16 51.60l1 -1l1 1l-1 1zM237.06 51.60l1 -1l1 1l-1 1zM229.81 53.03l1 -1l1 1l-1 1zM232.71 53.03l1 -1l1 1l-1 1zM235.61 53.03l1 -1l1 1l-1 1zM231.26 54.45l1 -1l1 1l-1 1zM234.16 54.45l1 -1l1 1l-1 1zM237.06 54.45l1 -1l1 1l-1 1zM229.81 55.88l1 -1l1 1l-1 1zM232.71 55.88l1 -1l1 1l-1 1zM235.61 55.88l1 -1l1 1l-1 1zM231.26 57.31l1 -1l1 1l-1 1zM234.16 57.31l1 -1l1 1l-1 1zM237.06 57.31l1 -1l1 1l-1 1zM229.81 58.74l1 -1l1 1l-1 1zM232.71 58.74l1 -1l1 1l-1 1zM235.61 58.74l1 -1l1 1l-1 1zM231.26 60.17l1 -1l1 1l-1 1zM234.16 60.17l1 -1l1 1l-1 1zM237.06 60.17l1 -1l1 1l-1 1zM229.81 61.60l1 -1l1 1l-1 1zM232.71 61.60l1 -1l1 1l-1 1zM235.61 61.60l1 -1l1 1l-1 1zM231.26 63.03l1 -1l1 1l-1 1zM234.16 63.03l1 -1l1 1l-1 1zM237.06 63.03l1 -1l1 1l-1 1zM229.81 64.45l1 -1l1 1l-1 1zM232.71 64.45l1 -1l1 1l-1 1zM235.61 64.45l1 -1l1 1l-1 1zM231.26 65.88l1 -1l1 1l-1 1zM234.16 65.88l1 -1l1 1l-1 1zM237.06 65.88l1 -1l1 1l-1 1zM229.81 67.31l1 -1l1 1l-1 1zM232.71 67.31l1 -1l1 1l-1 1zM235.61 67.31l1 -1l1 1l-1 1zM231.26 68.74l1 -1l1 1l-1 1zM234.16 68.74l1 -1l1 1l-1 1zM237.06 68.74l1 -1l1 1l-1 1zM229.81 70.17l1 -1l1 1l-1 1zM232.71 70.17l1 -1l1 1l-1 1zM235.61 70.17l1 -1l1 1l-1 1zM231.26 71.60l1 -1l1 1l-1 1zM234.16 71.60l1 -1l1 1l-1 1zM237.06 71.60l1 -1l1 1l-1 1zM229.81 73.03l1 -1l1 1l-1 1zM232.71 73.03l1 -1l1 1l-1 1zM235.61 73.03l1 -1l1 1l-1 1zM231.26 74.45l1 -1l1 1l-1 1zM234.16 74.45l1 -1l1 1l-1 1zM237.06 74.45l1 -1l1 1l-1 1zM229.81 75.88l1 -1l1 1l-1 1zM232.71 75.88l1 -1l1 1l-1 1zM235.61 75.88l1 -1l1 1l-1 1zM231.26 77.31l1 -1l1 1l-1 1zM234.16 77.31l1 -1l1 1l-1 1zM237.06 77.31l1 -1l1 1l-1 1zM229.81 78.74l1 -1l1 1l-1 1zM232.71 78.74l1 -1l1 1l-1 1zM235.61 78.74l1 -1l1 1l-1 1zM231.26 80.17l1 -1l1 1l-1 1zM234.16 80.17l1 -1l1 1l-1 1zM237.06 80.17l1 -1l1 1l-1 1zM229.81 81.60l1 -1l1 1l-1 1zM232.71 81.60l1 -1l1 1l-1 1zM235.61 81.60l1 -1l1 1l-1 1zM231.26 83.02l1 -1l1 1l-1 1zM234.16 83.02l1 -1l1 1l-1 1zM237.06 83.02l1 -1l1 1l-1 1zM229.81 84.45l1 -1l1 1l-1 1zM232.71 84.45l1 -1l1 1l-1 1zM235.61 84.45l1 -1l1 1l-1 1zM231.26 85.88l1 -1l1 1l-1 1zM234.16 85.88l1 -1l1 1l-1 1zM237.06 85.88l1 -1l1 1l-1 1zM229.81 87.31l1 -1l1 1l-1 1zM232.71 87.31l1 -1l1 1l-1 1zM235.61 87.31l1 -1l1 1l-1 1zM231.26 88.74l1 -1l1 1l-1 1zM234.16 88.74l1 -1l1 1l-1 1zM237.06 88.74l1 -1l1 1l-1 1zM229.81 90.17l1 -1l1 1l-1 1zM232.71 90.17l1 -1l1 1l-1 1zM235.61 90.17l1 -1l1 1l-1 1zM231.26 91.60l1 -1l1 1l-1 1zM234.16 91.60l1 -1l1 1l-1 1zM237.06 91.60l1 -1l1 1l-1 1zM229.81 93.02l1 -1l1 1l-1 1zM232.71 93.02l1 -1l1 1l-1 1zM235.61 93.02l1 -1l1 1l-1 1zM231.26 94.45l1 -1l1 1l-1 1zM234.16 94.45l1 -1l1 1l-1 1zM237.06 94.45l1 -1l1 1l-1 1zM229.81 95.88l1 -1l1 1l-1 1zM232.71 95.88l1 -1l1 1l-1 1zM235.61 95.88l1 -1l1 1l-1 1zM231.26 97.31l1 -1l1 1l-1 1zM234.16 97.31l1 -1l1 1l-1 1zM237.06 97.31l1 -1l1 1l-1 1zM229.81 98.74l1 -1l1 1l-1 1zM232.71 98.74l1 -1l1 1l-1 1zM235.61 98.74l1 -1l1 1l-1 1zM231.26 100.17l1 -1l1 1l-1 1zM234.16 100.17l1 -1l1 1l-1 1zM237.06 100.17l1 -1l1 1l-1 1zM229.81 101.59l1 -1l1 1l-1 1zM232.71 101.59l1 -1l1 1l-1 1zM235.61 101.59l1 -1l1 1l-1 1zM231.26 103.02l1 -1l1 1l-1 1zM234.16 103.02l1 -1l1 1l-1 1zM237.06 103.02l1 -1l1 1l-1 1zM229.81 104.45l1 -1l1 1l-1 1zM232.71 104.45l1 -1l1 1l-1 1zM235.61 104.45l1 -1l1 1l-1 1zM231.26 105.88l1 -1l1 1l-1 1zM234.16 105.88l1 -1l1 1l-1 1zM237.06 105.88l1 -1l1 1l-1 1zM229.81 107.31l1 -1l1 1l-1 1zM232.71 107.31l1 -1l1 1l-1 1zM235.61 107.31l1 -1l1 1l-1 1zM231.26 108.74l1 -1l1 1l-1 1zM234.16 108.74l1 -1l1 1l-1 1zM237.06 108.74l1 -1l1 1l-1 1zM229.81 110.17l1 -1l1 1l-1 1zM232.71 110.17l1 -1l1 1l-1 1zM235.61 110.17l1 -1l1 1l-1 1zM231.26 111.59l1 -1l1 1l-1 1zM234.16 111.59l1 -1l1 1l-1 1zM237.06 111.59l1 -1l1 1l-1 1zM229.81 113.02l1 -1l1 1l-1 1zM232.71 113.02l1 -1l1 1l-1 1zM235.61 113.02l1 -1l1 1l-1 1zM231.26 114.45l1 -1l1 1l-1 1zM234.16 114.45l1 -1l1 1l-1 1zM237.06 114.45l1 -1l1 1l-1 1zM229.81 115.88l1 -1l1 1l-1 1zM232.71 115.88l1 -1l1 1l-1 1zM235.61 115.88l1 -1l1 1l-1 1zM231.26 117.31l1 -1l1 1l-1 1zM234.16 117.31l1 -1l1 1l-1 1zM237.06 117.31l1 -1l1 1l-1 1zM229.81 118.74l1 -1l1 1l-1 1zM232.71 118.74l1 -1l1 1l-1 1zM235.61 118.74l1 -1l1 1l-1 1zM231.26 120.17l1 -1l1 1l-1 1zM234.16 120.17l1 -1l1 1l-1 1zM237.06 120.17l1 -1l1 1l-1 1zM229.81 121.59l1 -1l1 1l-1 1zM232.71 121.59l1 -1l1 1l-1 1zM235.61 121.59l1 -1l1 1l-1 1zM231.26 123.02l1 -1l1 1l-1 1zM234.16 123.02l1 -1l1 1l-1 1zM237.06 123.02l1 -1l1 1l-1 1zM229.81 124.45l1 -1l1 1l-1 1zM232.71 124.45l1 -1l1 1l-1 1zM235.61 124.45l1 -1l1 1l-1 1zM231.26 125.88l1 -1l1 1l-1 1zM234.16 125.88l1 -1l1 1l-1 1zM237.06 125.88l1 -1l1 1l-1 1zM229.81 127.31l1 -1l1 1l-1 1zM232.71 127.31l1 -1l1 1l-1 1zM235.61 127.31l1 -1l1 1l-1 1zM231.26 128.74l1 -1l1 1l-1 1zM234.16 128.74l1 -1l1 1l-1 1zM237.06 128.74l1 -1l1 1l-1 1zM229.81 130.16l1 -1l1 1l-1 1zM232.71 130.16l1 -1l1 1l-1 1zM235.61 130.16l1 -1l1 1l-1 1zM231.26 131.59l1 -1l1 1l-1 1zM234.16 131.59l1 -1l1 1l-1 1zM237.06 131.59l1 -1l1 1l-1 1zM229.81 133.02l1 -1l1 1l-1 1zM232.71 133.02l1 -1l1 1l-1 1zM235.61 133.02l1 -1l1 1l-1 1zM231.26 134.45l1 -1l1 1l-1 1zM234.16 134.45l1 -1l1 1l-1 1zM237.06 134.45l1 -1l1 1l-1 1zM229.81 135.88l1 -1l1 1l-1 1zM232.71 135.88l1 -1l1 1l-1 1zM235.61 135.88l1 -1l1 1l-1 1zM231.26 137.31l1 -1l1 1l-1 1zM234.16 137.31l1 -1l1 1l-1 1zM237.06 137.31l1 -1l1 1l-1 1zM229.81 138.74l1 -1l1 1l-1 1zM232.71 138.74l1 -1l1 1l-1 1zM235.61 138.74l1 -1l1 1l-1 1zM231.26 140.16l1 -1l1 1l-1 1zM234.16 140.16l1 -1l1 1l-1 1zM237.06 140.16l1 -1l1 1l-1 1zM229.81 141.59l1 -1l1 1l-1 1zM232.71 141.59l1 -1l1 1l-1 1zM235.61 141.59l1 -1l1 1l-1 1zM231.26 143.02l1 -1l1 1l-1 1zM234.16 143.02l1 -1l1 1l-1 1zM237.06 143.02l1 -1l1 1l-1 1zM229.81 144.45l1 -1l1 1l-1 1zM232.71 144.45l1 -1l1 1l-1 1zM235.61 144.45l1 -1l1 1l-1 1zM231.26 145.88l1 -1l1 1l-1 1zM234.16 145.88l1 -1l1 1l-1 1zM237.06 145.88l1 -1l1 1l-1 1zM229.81 147.31l1 -1l1 1l-1 1zM232.71 147.31l1 -1l1 1l-1 1zM235.61 147.31l1 -1l1 1l-1 1zM231.26 148.74l1 -1l1 1l-1 1zM234.16 148.74l1 -1l1 1l-1 1zM237.06 148.74l1 -1l1 1l-1 1zM229.81 150.16l1 -1l1 1l-1 1zM232.71 150.16l1 -1l1 1l-1 1zM235.61 150.16l1 -1l1 1l-1 1zM231.26 151.59l1 -1l1 1l-1 1zM234.16 151.59l1 -1l1 1l-1 1zM237.06 151.59l1 -1l1 1l-1 1zM229.81 153.02l1 -1l1 1l-1 1zM232.71 153.02l1 -1l1 1l-1 1zM235.61 153.02l1 -1l1 1l-1 1zM231.26 154.45l1 -1l1 1l-1 1zM234.16 154.45l1 -1l1 1l-1 1zM237.06 154.45l1 -1l1 1l-1 1zM229.81 155.88l1 -1l1 1l-1 1zM232.71 155.88l1 -1l1 1l-1 1zM235.61 155.88l1 -1l1 1l-1 1zM231.26 157.31l1 -1l1 1l-1 1zM234.16 157.31l1 -1l1 1l-1 1zM237.06 157.31l1 -1l1 1l-1 1zM229.81 158.74l1 -1l1 1l-1 1zM232.71 158.74l1 -1l1 1l-1 1zM235.61 158.74l1 -1l1 1l-1 1zM231.26 160.16l1 -1l1 1l-1 1zM234.16 160.16l1 -1l1 1l-1 1zM237.06 160.16l1 -1l1 1l-1 1zM229.81 161.59l1 -1l1 1l-1 1zM232.71 161.59l1 -1l1 1l-1 1zM235.61 161.59l1 -1l1 1l-1 1z" fill="#fff"/><rect x="231.46" y="35.02" width="6.35" height="126.68" fill="none" stroke="#000" stroke-width="1.30"/>
<path d="M244.74 35.15V37.22M242.24 35.15H247.24M242.24 37.22H247.24" stroke="#000" stroke-width="1.1" fill="none"/>
<rect x="241.56" y="36.18" width="6.35" height="125.52" fill="#6e6e6e" stroke="#000" stroke-width="1.30"/>
<path d="M244.74 36.18V37.22M242.24 37.22H247.24" stroke="#000" stroke-width="1.1" fill="none"/>
<path d="M38.60 162.30V19.40H252.80V161.70" stroke="#000" stroke-width="1.25" fill="none"/>
<path d="M33.40 161.70H253.40" stroke="#000" stroke-width="1.25" fill="none"/>
<path d="M33.40 32.30H38.60" stroke="#000" stroke-width="1.25"/>
<text x="33.60" y="35.90" text-anchor="end" class="t">100</text>
<path d="M33.40 97.00H38.60" stroke="#000" stroke-width="1.25"/>
<text x="33.60" y="100.60" text-anchor="end" class="t">50</text>
<text x="33.60" y="165.30" text-anchor="end" class="t">0</text>
<path d="M52.34 161.70V166.10" stroke="#000" stroke-width="1.25"/>
<text transform="translate(52.19 175.40) rotate(-45)" text-anchor="end" class="x">Buffer control</text>
<path d="M79.11 161.70V166.10" stroke="#000" stroke-width="1.25"/>
<text transform="translate(80.06 174.30) rotate(-45)" text-anchor="end" class="x">IgG( +ve control)</text>
<path d="M105.89 161.70V166.10" stroke="#000" stroke-width="1.25"/>
<text transform="translate(108.54 172.30) rotate(-45)" text-anchor="end" class="x">UHRA-8</text>
<path d="M132.66 161.70V166.10" stroke="#000" stroke-width="1.25"/>
<text transform="translate(135.31 172.30) rotate(-45)" text-anchor="end" class="x">UHRA-9</text>
<path d="M159.44 161.70V166.10" stroke="#000" stroke-width="1.25"/>
<text transform="translate(162.19 172.10) rotate(-45)" text-anchor="end" class="x">UHRA-10</text>
<path d="M186.21 161.70V166.10" stroke="#000" stroke-width="1.25"/>
<text transform="translate(189.26 172.00) rotate(-45)" text-anchor="end" class="x">UHRA-14</text>
<path d="M212.99 161.70V166.10" stroke="#000" stroke-width="1.25"/>
<text transform="translate(214.64 174.20) rotate(-45)" text-anchor="end" class="x">Protamine</text>
<path d="M239.76 161.70V166.10" stroke="#000" stroke-width="1.25"/>
<text transform="translate(242.11 172.40) rotate(-45)" text-anchor="end" class="x">PEI</text>
<text transform="translate(8.50 90.30) rotate(-90)" text-anchor="middle" class="y" style="font-size:10.1px">% of Complement consumed</text>
<text x="1.30" y="13.70" class="L">A</text>
<clipPath id="c9"><rect x="125.20" y="41.10" width="15.20" height="4.40"/></clipPath><rect x="125.20" y="41.10" width="15.20" height="4.40" fill="#111"/><path clip-path="url(#c9)" d="M123.60 41.40l1 -1l1 1l-1 1zM126.50 41.40l1 -1l1 1l-1 1zM129.40 41.40l1 -1l1 1l-1 1zM132.30 41.40l1 -1l1 1l-1 1zM135.20 41.40l1 -1l1 1l-1 1zM138.10 41.40l1 -1l1 1l-1 1zM125.05 42.83l1 -1l1 1l-1 1zM127.95 42.83l1 -1l1 1l-1 1zM130.85 42.83l1 -1l1 1l-1 1zM133.75 42.83l1 -1l1 1l-1 1zM136.65 42.83l1 -1l1 1l-1 1zM139.55 42.83l1 -1l1 1l-1 1zM123.60 44.26l1 -1l1 1l-1 1zM126.50 44.26l1 -1l1 1l-1 1zM129.40 44.26l1 -1l1 1l-1 1zM132.30 44.26l1 -1l1 1l-1 1zM135.20 44.26l1 -1l1 1l-1 1zM138.10 44.26l1 -1l1 1l-1 1zM125.05 45.69l1 -1l1 1l-1 1zM127.95 45.69l1 -1l1 1l-1 1zM130.85 45.69l1 -1l1 1l-1 1zM133.75 45.69l1 -1l1 1l-1 1zM136.65 45.69l1 -1l1 1l-1 1zM139.55 45.69l1 -1l1 1l-1 1z" fill="#fff"/><rect x="125.20" y="41.10" width="15.20" height="4.40" fill="none" stroke="#000" stroke-width="1.20"/>
<text x="149.20" y="46.10" class="g">1 mg/mL</text>
<rect x="125.20" y="57.50" width="15.2" height="4.4" fill="#6e6e6e" stroke="#000" stroke-width="1.2"/>
<text x="149.20" y="62.50" class="g">2 mg/mL</text>
<path d="M314.10 156.17V158.23M311.60 156.17H316.60M311.60 158.23H316.60" stroke="#000" stroke-width="1.1" fill="none"/>
<clipPath id="c10"><rect x="310.93" y="157.20" width="6.35" height="3.60"/></clipPath><rect x="310.93" y="157.20" width="6.35" height="3.60" fill="#111"/><path clip-path="url(#c10)" d="M310.73 157.31l1 -1l1 1l-1 1zM313.62 157.31l1 -1l1 1l-1 1zM316.53 157.31l1 -1l1 1l-1 1zM309.28 158.74l1 -1l1 1l-1 1zM312.18 158.74l1 -1l1 1l-1 1zM315.08 158.74l1 -1l1 1l-1 1zM310.73 160.16l1 -1l1 1l-1 1zM313.62 160.16l1 -1l1 1l-1 1zM316.53 160.16l1 -1l1 1l-1 1zM309.28 161.59l1 -1l1 1l-1 1zM312.18 161.59l1 -1l1 1l-1 1zM315.08 161.59l1 -1l1 1l-1 1z" fill="#fff"/><rect x="310.93" y="157.20" width="6.35" height="3.60" fill="none" stroke="#000" stroke-width="1.30"/>
<path d="M340.65 30.43V40.72M338.15 30.43H343.15M338.15 40.72H343.15" stroke="#000" stroke-width="1.1" fill="none"/>
<clipPath id="c11"><rect x="337.48" y="35.57" width="6.35" height="125.23"/></clipPath><rect x="337.48" y="35.57" width="6.35" height="125.23" fill="#111"/><path clip-path="url(#c11)" d="M335.83 35.88l1 -1l1 1l-1 1zM338.73 35.88l1 -1l1 1l-1 1zM341.63 35.88l1 -1l1 1l-1 1zM337.28 37.31l1 -1l1 1l-1 1zM340.18 37.31l1 -1l1 1l-1 1zM343.08 37.31l1 -1l1 1l-1 1zM335.83 38.74l1 -1l1 1l-1 1zM338.73 38.74l1 -1l1 1l-1 1zM341.63 38.74l1 -1l1 1l-1 1zM337.28 40.17l1 -1l1 1l-1 1zM340.18 40.17l1 -1l1 1l-1 1zM343.08 40.17l1 -1l1 1l-1 1zM335.83 41.60l1 -1l1 1l-1 1zM338.73 41.60l1 -1l1 1l-1 1zM341.63 41.60l1 -1l1 1l-1 1zM337.28 43.03l1 -1l1 1l-1 1zM340.18 43.03l1 -1l1 1l-1 1zM343.08 43.03l1 -1l1 1l-1 1zM335.83 44.46l1 -1l1 1l-1 1zM338.73 44.46l1 -1l1 1l-1 1zM341.63 44.46l1 -1l1 1l-1 1zM337.28 45.88l1 -1l1 1l-1 1zM340.18 45.88l1 -1l1 1l-1 1zM343.08 45.88l1 -1l1 1l-1 1zM335.83 47.31l1 -1l1 1l-1 1zM338.73 47.31l1 -1l1 1l-1 1zM341.63 47.31l1 -1l1 1l-1 1zM337.28 48.74l1 -1l1 1l-1 1zM340.18 48.74l1 -1l1 1l-1 1zM343.08 48.74l1 -1l1 1l-1 1zM335.83 50.17l1 -1l1 1l-1 1zM338.73 50.17l1 -1l1 1l-1 1zM341.63 50.17l1 -1l1 1l-1 1zM337.28 51.60l1 -1l1 1l-1 1zM340.18 51.60l1 -1l1 1l-1 1zM343.08 51.60l1 -1l1 1l-1 1zM335.83 53.03l1 -1l1 1l-1 1zM338.73 53.03l1 -1l1 1l-1 1zM341.63 53.03l1 -1l1 1l-1 1zM337.28 54.45l1 -1l1 1l-1 1zM340.18 54.45l1 -1l1 1l-1 1zM343.08 54.45l1 -1l1 1l-1 1zM335.83 55.88l1 -1l1 1l-1 1zM338.73 55.88l1 -1l1 1l-1 1zM341.63 55.88l1 -1l1 1l-1 1zM337.28 57.31l1 -1l1 1l-1 1zM340.18 57.31l1 -1l1 1l-1 1zM343.08 57.31l1 -1l1 1l-1 1zM335.83 58.74l1 -1l1 1l-1 1zM338.73 58.74l1 -1l1 1l-1 1zM341.63 58.74l1 -1l1 1l-1 1zM337.28 60.17l1 -1l1 1l-1 1zM340.18 60.17l1 -1l1 1l-1 1zM343.08 60.17l1 -1l1 1l-1 1zM335.83 61.60l1 -1l1 1l-1 1zM338.73 61.60l1 -1l1 1l-1 1zM341.63 61.60l1 -1l1 1l-1 1zM337.28 63.03l1 -1l1 1l-1 1zM340.18 63.03l1 -1l1 1l-1 1zM343.08 63.03l1 -1l1 1l-1 1zM335.83 64.45l1 -1l1 1l-1 1zM338.73 64.45l1 -1l1 1l-1 1zM341.63 64.45l1 -1l1 1l-1 1zM337.28 65.88l1 -1l1 1l-1 1zM340.18 65.88l1 -1l1 1l-1 1zM343.08 65.88l1 -1l1 1l-1 1zM335.83 67.31l1 -1l1 1l-1 1zM338.73 67.31l1 -1l1 1l-1 1zM341.63 67.31l1 -1l1 1l-1 1zM337.28 68.74l1 -1l1 1l-1 1zM340.18 68.74l1 -1l1 1l-1 1zM343.08 68.74l1 -1l1 1l-1 1zM335.83 70.17l1 -1l1 1l-1 1zM338.73 70.17l1 -1l1 1l-1 1zM341.63 70.17l1 -1l1 1l-1 1zM337.28 71.60l1 -1l1 1l-1 1zM340.18 71.60l1 -1l1 1l-1 1zM343.08 71.60l1 -1l1 1l-1 1zM335.83 73.03l1 -1l1 1l-1 1zM338.73 73.03l1 -1l1 1l-1 1zM341.63 73.03l1 -1l1 1l-1 1zM337.28 74.45l1 -1l1 1l-1 1zM340.18 74.45l1 -1l1 1l-1 1zM343.08 74.45l1 -1l1 1l-1 1zM335.83 75.88l1 -1l1 1l-1 1zM338.73 75.88l1 -1l1 1l-1 1zM341.63 75.88l1 -1l1 1l-1 1zM337.28 77.31l1 -1l1 1l-1 1zM340.18 77.31l1 -1l1 1l-1 1zM343.08 77.31l1 -1l1 1l-1 1zM335.83 78.74l1 -1l1 1l-1 1zM338.73 78.74l1 -1l1 1l-1 1zM341.63 78.74l1 -1l1 1l-1 1zM337.28 80.17l1 -1l1 1l-1 1zM340.18 80.17l1 -1l1 1l-1 1zM343.08 80.17l1 -1l1 1l-1 1zM335.83 81.60l1 -1l1 1l-1 1zM338.73 81.60l1 -1l1 1l-1 1zM341.63 81.60l1 -1l1 1l-1 1zM337.28 83.02l1 -1l1 1l-1 1zM340.18 83.02l1 -1l1 1l-1 1zM343.08 83.02l1 -1l1 1l-1 1zM335.83 84.45l1 -1l1 1l-1 1zM338.73 84.45l1 -1l1 1l-1 1zM341.63 84.45l1 -1l1 1l-1 1zM337.28 85.88l1 -1l1 1l-1 1zM340.18 85.88l1 -1l1 1l-1 1zM343.08 85.88l1 -1l1 1l-1 1zM335.83 87.31l1 -1l1 1l-1 1zM338.73 87.31l1 -1l1 1l-1 1zM341.63 87.31l1 -1l1 1l-1 1zM337.28 88.74l1 -1l1 1l-1 1zM340.18 88.74l1 -1l1 1l-1 1zM343.08 88.74l1 -1l1 1l-1 1zM335.83 90.17l1 -1l1 1l-1 1zM338.73 90.17l1 -1l1 1l-1 1zM341.63 90.17l1 -1l1 1l-1 1zM337.28 91.60l1 -1l1 1l-1 1zM340.18 91.60l1 -1l1 1l-1 1zM343.08 91.60l1 -1l1 1l-1 1zM335.83 93.02l1 -1l1 1l-1 1zM338.73 93.02l1 -1l1 1l-1 1zM341.63 93.02l1 -1l1 1l-1 1zM337.28 94.45l1 -1l1 1l-1 1zM340.18 94.45l1 -1l1 1l-1 1zM343.08 94.45l1 -1l1 1l-1 1zM335.83 95.88l1 -1l1 1l-1 1zM338.73 95.88l1 -1l1 1l-1 1zM341.63 95.88l1 -1l1 1l-1 1zM337.28 97.31l1 -1l1 1l-1 1zM340.18 97.31l1 -1l1 1l-1 1zM343.08 97.31l1 -1l1 1l-1 1zM335.83 98.74l1 -1l1 1l-1 1zM338.73 98.74l1 -1l1 1l-1 1zM341.63 98.74l1 -1l1 1l-1 1zM337.28 100.17l1 -1l1 1l-1 1zM340.18 100.17l1 -1l1 1l-1 1zM343.08 100.17l1 -1l1 1l-1 1zM335.83 101.59l1 -1l1 1l-1 1zM338.73 101.59l1 -1l1 1l-1 1zM341.63 101.59l1 -1l1 1l-1 1zM337.28 103.02l1 -1l1 1l-1 1zM340.18 103.02l1 -1l1 1l-1 1zM343.08 103.02l1 -1l1 1l-1 1zM335.83 104.45l1 -1l1 1l-1 1zM338.73 104.45l1 -1l1 1l-1 1zM341.63 104.45l1 -1l1 1l-1 1zM337.28 105.88l1 -1l1 1l-1 1zM340.18 105.88l1 -1l1 1l-1 1zM343.08 105.88l1 -1l1 1l-1 1zM335.83 107.31l1 -1l1 1l-1 1zM338.73 107.31l1 -1l1 1l-1 1zM341.63 107.31l1 -1l1 1l-1 1zM337.28 108.74l1 -1l1 1l-1 1zM340.18 108.74l1 -1l1 1l-1 1zM343.08 108.74l1 -1l1 1l-1 1zM335.83 110.17l1 -1l1 1l-1 1zM338.73 110.17l1 -1l1 1l-1 1zM341.63 110.17l1 -1l1 1l-1 1zM337.28 111.59l1 -1l1 1l-1 1zM340.18 111.59l1 -1l1 1l-1 1zM343.08 111.59l1 -1l1 1l-1 1zM335.83 113.02l1 -1l1 1l-1 1zM338.73 113.02l1 -1l1 1l-1 1zM341.63 113.02l1 -1l1 1l-1 1zM337.28 114.45l1 -1l1 1l-1 1zM340.18 114.45l1 -1l1 1l-1 1zM343.08 114.45l1 -1l1 1l-1 1zM335.83 115.88l1 -1l1 1l-1 1zM338.73 115.88l1 -1l1 1l-1 1zM341.63 115.88l1 -1l1 1l-1 1zM337.28 117.31l1 -1l1 1l-1 1zM340.18 117.31l1 -1l1 1l-1 1zM343.08 117.31l1 -1l1 1l-1 1zM335.83 118.74l1 -1l1 1l-1 1zM338.73 118.74l1 -1l1 1l-1 1zM341.63 118.74l1 -1l1 1l-1 1zM337.28 120.17l1 -1l1 1l-1 1zM340.18 120.17l1 -1l1 1l-1 1zM343.08 120.17l1 -1l1 1l-1 1zM335.83 121.59l1 -1l1 1l-1 1zM338.73 121.59l1 -1l1 1l-1 1zM341.63 121.59l1 -1l1 1l-1 1zM337.28 123.02l1 -1l1 1l-1 1zM340.18 123.02l1 -1l1 1l-1 1zM343.08 123.02l1 -1l1 1l-1 1zM335.83 124.45l1 -1l1 1l-1 1zM338.73 124.45l1 -1l1 1l-1 1zM341.63 124.45l1 -1l1 1l-1 1zM337.28 125.88l1 -1l1 1l-1 1zM340.18 125.88l1 -1l1 1l-1 1zM343.08 125.88l1 -1l1 1l-1 1zM335.83 127.31l1 -1l1 1l-1 1zM338.73 127.31l1 -1l1 1l-1 1zM341.63 127.31l1 -1l1 1l-1 1zM337.28 128.74l1 -1l1 1l-1 1zM340.18 128.74l1 -1l1 1l-1 1zM343.08 128.74l1 -1l1 1l-1 1zM335.83 130.16l1 -1l1 1l-1 1zM338.73 130.16l1 -1l1 1l-1 1zM341.63 130.16l1 -1l1 1l-1 1zM337.28 131.59l1 -1l1 1l-1 1zM340.18 131.59l1 -1l1 1l-1 1zM343.08 131.59l1 -1l1 1l-1 1zM335.83 133.02l1 -1l1 1l-1 1zM338.73 133.02l1 -1l1 1l-1 1zM341.63 133.02l1 -1l1 1l-1 1zM337.28 134.45l1 -1l1 1l-1 1zM340.18 134.45l1 -1l1 1l-1 1zM343.08 134.45l1 -1l1 1l-1 1zM335.83 135.88l1 -1l1 1l-1 1zM338.73 135.88l1 -1l1 1l-1 1zM341.63 135.88l1 -1l1 1l-1 1zM337.28 137.31l1 -1l1 1l-1 1zM340.18 137.31l1 -1l1 1l-1 1zM343.08 137.31l1 -1l1 1l-1 1zM335.83 138.74l1 -1l1 1l-1 1zM338.73 138.74l1 -1l1 1l-1 1zM341.63 138.74l1 -1l1 1l-1 1zM337.28 140.16l1 -1l1 1l-1 1zM340.18 140.16l1 -1l1 1l-1 1zM343.08 140.16l1 -1l1 1l-1 1zM335.83 141.59l1 -1l1 1l-1 1zM338.73 141.59l1 -1l1 1l-1 1zM341.63 141.59l1 -1l1 1l-1 1zM337.28 143.02l1 -1l1 1l-1 1zM340.18 143.02l1 -1l1 1l-1 1zM343.08 143.02l1 -1l1 1l-1 1zM335.83 144.45l1 -1l1 1l-1 1zM338.73 144.45l1 -1l1 1l-1 1zM341.63 144.45l1 -1l1 1l-1 1zM337.28 145.88l1 -1l1 1l-1 1zM340.18 145.88l1 -1l1 1l-1 1zM343.08 145.88l1 -1l1 1l-1 1zM335.83 147.31l1 -1l1 1l-1 1zM338.73 147.31l1 -1l1 1l-1 1zM341.63 147.31l1 -1l1 1l-1 1zM337.28 148.74l1 -1l1 1l-1 1zM340.18 148.74l1 -1l1 1l-1 1zM343.08 148.74l1 -1l1 1l-1 1zM335.83 150.16l1 -1l1 1l-1 1zM338.73 150.16l1 -1l1 1l-1 1zM341.63 150.16l1 -1l1 1l-1 1zM337.28 151.59l1 -1l1 1l-1 1zM340.18 151.59l1 -1l1 1l-1 1zM343.08 151.59l1 -1l1 1l-1 1zM335.83 153.02l1 -1l1 1l-1 1zM338.73 153.02l1 -1l1 1l-1 1zM341.63 153.02l1 -1l1 1l-1 1zM337.28 154.45l1 -1l1 1l-1 1zM340.18 154.45l1 -1l1 1l-1 1zM343.08 154.45l1 -1l1 1l-1 1zM335.83 155.88l1 -1l1 1l-1 1zM338.73 155.88l1 -1l1 1l-1 1zM341.63 155.88l1 -1l1 1l-1 1zM337.28 157.31l1 -1l1 1l-1 1zM340.18 157.31l1 -1l1 1l-1 1zM343.08 157.31l1 -1l1 1l-1 1zM335.83 158.74l1 -1l1 1l-1 1zM338.73 158.74l1 -1l1 1l-1 1zM341.63 158.74l1 -1l1 1l-1 1zM337.28 160.16l1 -1l1 1l-1 1zM340.18 160.16l1 -1l1 1l-1 1zM343.08 160.16l1 -1l1 1l-1 1zM335.83 161.59l1 -1l1 1l-1 1zM338.73 161.59l1 -1l1 1l-1 1zM341.63 161.59l1 -1l1 1l-1 1z" fill="#fff"/><rect x="337.48" y="35.57" width="6.35" height="125.23" fill="none" stroke="#000" stroke-width="1.30"/>
<path d="M367.20 140.21V147.67M364.70 140.21H369.70M364.70 147.67H369.70" stroke="#000" stroke-width="1.1" fill="none"/>
<clipPath id="c12"><rect x="364.03" y="143.94" width="6.35" height="16.86"/></clipPath><rect x="364.03" y="143.94" width="6.35" height="16.86" fill="#111"/><path clip-path="url(#c12)" d="M363.83 143.02l1 -1l1 1l-1 1zM366.73 143.02l1 -1l1 1l-1 1zM369.63 143.02l1 -1l1 1l-1 1zM362.38 144.45l1 -1l1 1l-1 1zM365.28 144.45l1 -1l1 1l-1 1zM368.18 144.45l1 -1l1 1l-1 1zM363.83 145.88l1 -1l1 1l-1 1zM366.73 145.88l1 -1l1 1l-1 1zM369.63 145.88l1 -1l1 1l-1 1zM362.38 147.31l1 -1l1 1l-1 1zM365.28 147.31l1 -1l1 1l-1 1zM368.18 147.31l1 -1l1 1l-1 1zM363.83 148.74l1 -1l1 1l-1 1zM366.73 148.74l1 -1l1 1l-1 1zM369.63 148.74l1 -1l1 1l-1 1zM362.38 150.16l1 -1l1 1l-1 1zM365.28 150.16l1 -1l1 1l-1 1zM368.18 150.16l1 -1l1 1l-1 1zM363.83 151.59l1 -1l1 1l-1 1zM366.73 151.59l1 -1l1 1l-1 1zM369.63 151.59l1 -1l1 1l-1 1zM362.38 153.02l1 -1l1 1l-1 1zM365.28 153.02l1 -1l1 1l-1 1zM368.18 153.02l1 -1l1 1l-1 1zM363.83 154.45l1 -1l1 1l-1 1zM366.73 154.45l1 -1l1 1l-1 1zM369.63 154.45l1 -1l1 1l-1 1zM362.38 155.88l1 -1l1 1l-1 1zM365.28 155.88l1 -1l1 1l-1 1zM368.18 155.88l1 -1l1 1l-1 1zM363.83 157.31l1 -1l1 1l-1 1zM366.73 157.31l1 -1l1 1l-1 1zM369.63 157.31l1 -1l1 1l-1 1zM362.38 158.74l1 -1l1 1l-1 1zM365.28 158.74l1 -1l1 1l-1 1zM368.18 158.74l1 -1l1 1l-1 1zM363.83 160.16l1 -1l1 1l-1 1zM366.73 160.16l1 -1l1 1l-1 1zM369.63 160.16l1 -1l1 1l-1 1zM362.38 161.59l1 -1l1 1l-1 1zM365.28 161.59l1 -1l1 1l-1 1zM368.18 161.59l1 -1l1 1l-1 1z" fill="#fff"/><rect x="364.03" y="143.94" width="6.35" height="16.86" fill="none" stroke="#000" stroke-width="1.30"/>
<path d="M377.30 135.06V147.42M374.80 135.06H379.80M374.80 147.42H379.80" stroke="#000" stroke-width="1.1" fill="none"/>
<rect x="374.12" y="141.24" width="6.35" height="19.56" fill="#4a4a4a" stroke="#000" stroke-width="1.30"/>
<path d="M377.30 141.24V147.42M374.80 147.42H379.80" stroke="#000" stroke-width="1.1" fill="none"/>
<path d="M393.75 139.18V144.84M391.25 139.18H396.25M391.25 144.84H396.25" stroke="#000" stroke-width="1.1" fill="none"/>
<clipPath id="c13"><rect x="390.57" y="142.01" width="6.35" height="18.79"/></clipPath><rect x="390.57" y="142.01" width="6.35" height="18.79" fill="#111"/><path clip-path="url(#c13)" d="M388.93 141.59l1 -1l1 1l-1 1zM391.82 141.59l1 -1l1 1l-1 1zM394.73 141.59l1 -1l1 1l-1 1zM390.38 143.02l1 -1l1 1l-1 1zM393.27 143.02l1 -1l1 1l-1 1zM396.18 143.02l1 -1l1 1l-1 1zM388.93 144.45l1 -1l1 1l-1 1zM391.82 144.45l1 -1l1 1l-1 1zM394.73 144.45l1 -1l1 1l-1 1zM390.38 145.88l1 -1l1 1l-1 1zM393.27 145.88l1 -1l1 1l-1 1zM396.18 145.88l1 -1l1 1l-1 1zM388.93 147.31l1 -1l1 1l-1 1zM391.82 147.31l1 -1l1 1l-1 1zM394.73 147.31l1 -1l1 1l-1 1zM390.38 148.74l1 -1l1 1l-1 1zM393.27 148.74l1 -1l1 1l-1 1zM396.18 148.74l1 -1l1 1l-1 1zM388.93 150.16l1 -1l1 1l-1 1zM391.82 150.16l1 -1l1 1l-1 1zM394.73 150.16l1 -1l1 1l-1 1zM390.38 151.59l1 -1l1 1l-1 1zM393.27 151.59l1 -1l1 1l-1 1zM396.18 151.59l1 -1l1 1l-1 1zM388.93 153.02l1 -1l1 1l-1 1zM391.82 153.02l1 -1l1 1l-1 1zM394.73 153.02l1 -1l1 1l-1 1zM390.38 154.45l1 -1l1 1l-1 1zM393.27 154.45l1 -1l1 1l-1 1zM396.18 154.45l1 -1l1 1l-1 1zM388.93 155.88l1 -1l1 1l-1 1zM391.82 155.88l1 -1l1 1l-1 1zM394.73 155.88l1 -1l1 1l-1 1zM390.38 157.31l1 -1l1 1l-1 1zM393.27 157.31l1 -1l1 1l-1 1zM396.18 157.31l1 -1l1 1l-1 1zM388.93 158.74l1 -1l1 1l-1 1zM391.82 158.74l1 -1l1 1l-1 1zM394.73 158.74l1 -1l1 1l-1 1zM390.38 160.16l1 -1l1 1l-1 1zM393.27 160.16l1 -1l1 1l-1 1zM396.18 160.16l1 -1l1 1l-1 1zM388.93 161.59l1 -1l1 1l-1 1zM391.82 161.59l1 -1l1 1l-1 1zM394.73 161.59l1 -1l1 1l-1 1z" fill="#fff"/><rect x="390.57" y="142.01" width="6.35" height="18.79" fill="none" stroke="#000" stroke-width="1.30"/>
<path d="M403.85 136.99V142.65M401.35 136.99H406.35M401.35 142.65H406.35" stroke="#000" stroke-width="1.1" fill="none"/>
<rect x="400.67" y="139.82" width="6.35" height="20.98" fill="#4a4a4a" stroke="#000" stroke-width="1.30"/>
<path d="M403.85 139.82V142.65M401.35 142.65H406.35" stroke="#000" stroke-width="1.1" fill="none"/>
<path d="M420.30 147.03V150.89M417.80 147.03H422.80M417.80 150.89H422.80" stroke="#000" stroke-width="1.1" fill="none"/>
<clipPath id="c14"><rect x="417.13" y="148.96" width="6.35" height="11.84"/></clipPath><rect x="417.13" y="148.96" width="6.35" height="11.84" fill="#111"/><path clip-path="url(#c14)" d="M416.93 148.74l1 -1l1 1l-1 1zM419.83 148.74l1 -1l1 1l-1 1zM422.73 148.74l1 -1l1 1l-1 1zM415.48 150.16l1 -1l1 1l-1 1zM418.38 150.16l1 -1l1 1l-1 1zM421.28 150.16l1 -1l1 1l-1 1zM416.93 151.59l1 -1l1 1l-1 1zM419.83 151.59l1 -1l1 1l-1 1zM422.73 151.59l1 -1l1 1l-1 1zM415.48 153.02l1 -1l1 1l-1 1zM418.38 153.02l1 -1l1 1l-1 1zM421.28 153.02l1 -1l1 1l-1 1zM416.93 154.45l1 -1l1 1l-1 1zM419.83 154.45l1 -1l1 1l-1 1zM422.73 154.45l1 -1l1 1l-1 1zM415.48 155.88l1 -1l1 1l-1 1zM418.38 155.88l1 -1l1 1l-1 1zM421.28 155.88l1 -1l1 1l-1 1zM416.93 157.31l1 -1l1 1l-1 1zM419.83 157.31l1 -1l1 1l-1 1zM422.73 157.31l1 -1l1 1l-1 1zM415.48 158.74l1 -1l1 1l-1 1zM418.38 158.74l1 -1l1 1l-1 1zM421.28 158.74l1 -1l1 1l-1 1zM416.93 160.16l1 -1l1 1l-1 1zM419.83 160.16l1 -1l1 1l-1 1zM422.73 160.16l1 -1l1 1l-1 1zM415.48 161.59l1 -1l1 1l-1 1zM418.38 161.59l1 -1l1 1l-1 1zM421.28 161.59l1 -1l1 1l-1 1z" fill="#fff"/><rect x="417.13" y="148.96" width="6.35" height="11.84" fill="none" stroke="#000" stroke-width="1.30"/>
<path d="M430.40 145.48V147.54M427.90 145.48H432.90M427.90 147.54H432.90" stroke="#000" stroke-width="1.1" fill="none"/>
<rect x="427.23" y="146.51" width="6.35" height="14.29" fill="#4a4a4a" stroke="#000" stroke-width="1.30"/>
<path d="M430.40 146.51V147.54M427.90 147.54H432.90" stroke="#000" stroke-width="1.1" fill="none"/>
<path d="M446.85 151.79V154.88M444.35 151.79H449.35M444.35 154.88H449.35" stroke="#000" stroke-width="1.1" fill="none"/>
<clipPath id="c15"><rect x="443.68" y="153.34" width="6.35" height="7.46"/></clipPath><rect x="443.68" y="153.34" width="6.35" height="7.46" fill="#111"/><path clip-path="url(#c15)" d="M442.03 153.02l1 -1l1 1l-1 1zM444.93 153.02l1 -1l1 1l-1 1zM447.83 153.02l1 -1l1 1l-1 1zM443.48 154.45l1 -1l1 1l-1 1zM446.38 154.45l1 -1l1 1l-1 1zM449.28 154.45l1 -1l1 1l-1 1zM442.03 155.88l1 -1l1 1l-1 1zM444.93 155.88l1 -1l1 1l-1 1zM447.83 155.88l1 -1l1 1l-1 1zM443.48 157.31l1 -1l1 1l-1 1zM446.38 157.31l1 -1l1 1l-1 1zM449.28 157.31l1 -1l1 1l-1 1zM442.03 158.74l1 -1l1 1l-1 1zM444.93 158.74l1 -1l1 1l-1 1zM447.83 158.74l1 -1l1 1l-1 1zM443.48 160.16l1 -1l1 1l-1 1zM446.38 160.16l1 -1l1 1l-1 1zM449.28 160.16l1 -1l1 1l-1 1zM442.03 161.59l1 -1l1 1l-1 1zM444.93 161.59l1 -1l1 1l-1 1zM447.83 161.59l1 -1l1 1l-1 1z" fill="#fff"/><rect x="443.68" y="153.34" width="6.35" height="7.46" fill="none" stroke="#000" stroke-width="1.30"/>
<path d="M456.95 150.38V152.95M454.45 150.38H459.45M454.45 152.95H459.45" stroke="#000" stroke-width="1.1" fill="none"/>
<rect x="453.77" y="151.66" width="6.35" height="9.14" fill="#4a4a4a" stroke="#000" stroke-width="1.30"/>
<path d="M456.95 151.66V152.95M454.45 152.95H459.45" stroke="#000" stroke-width="1.1" fill="none"/>
<path d="M473.40 144.46V151.66M470.90 144.46H475.90M470.90 151.66H475.90" stroke="#000" stroke-width="1.1" fill="none"/>
<clipPath id="c16"><rect x="470.23" y="148.06" width="6.35" height="12.74"/></clipPath><rect x="470.23" y="148.06" width="6.35" height="12.74" fill="#111"/><path clip-path="url(#c16)" d="M468.58 147.31l1 -1l1 1l-1 1zM471.48 147.31l1 -1l1 1l-1 1zM474.38 147.31l1 -1l1 1l-1 1zM470.03 148.74l1 -1l1 1l-1 1zM472.93 148.74l1 -1l1 1l-1 1zM475.83 148.74l1 -1l1 1l-1 1zM468.58 150.16l1 -1l1 1l-1 1zM471.48 150.16l1 -1l1 1l-1 1zM474.38 150.16l1 -1l1 1l-1 1zM470.03 151.59l1 -1l1 1l-1 1zM472.93 151.59l1 -1l1 1l-1 1zM475.83 151.59l1 -1l1 1l-1 1zM468.58 153.02l1 -1l1 1l-1 1zM471.48 153.02l1 -1l1 1l-1 1zM474.38 153.02l1 -1l1 1l-1 1zM470.03 154.45l1 -1l1 1l-1 1zM472.93 154.45l1 -1l1 1l-1 1zM475.83 154.45l1 -1l1 1l-1 1zM468.58 155.88l1 -1l1 1l-1 1zM471.48 155.88l1 -1l1 1l-1 1zM474.38 155.88l1 -1l1 1l-1 1zM470.03 157.31l1 -1l1 1l-1 1zM472.93 157.31l1 -1l1 1l-1 1zM475.83 157.31l1 -1l1 1l-1 1zM468.58 158.74l1 -1l1 1l-1 1zM471.48 158.74l1 -1l1 1l-1 1zM474.38 158.74l1 -1l1 1l-1 1zM470.03 160.16l1 -1l1 1l-1 1zM472.93 160.16l1 -1l1 1l-1 1zM475.83 160.16l1 -1l1 1l-1 1zM468.58 161.59l1 -1l1 1l-1 1zM471.48 161.59l1 -1l1 1l-1 1zM474.38 161.59l1 -1l1 1l-1 1z" fill="#fff"/><rect x="470.23" y="148.06" width="6.35" height="12.74" fill="none" stroke="#000" stroke-width="1.30"/>
<path d="M483.50 120.52V133.90M481.00 120.52H486.00M481.00 133.90H486.00" stroke="#000" stroke-width="1.1" fill="none"/>
<rect x="480.32" y="127.21" width="6.35" height="33.59" fill="#4a4a4a" stroke="#000" stroke-width="1.30"/>
<path d="M483.50 127.21V133.90M481.00 133.90H486.00" stroke="#000" stroke-width="1.1" fill="none"/>
<path d="M499.95 32.36V32.87M497.45 32.36H502.45M497.45 32.87H502.45" stroke="#000" stroke-width="1.1" fill="none"/>
<clipPath id="c17"><rect x="496.78" y="32.61" width="6.35" height="128.19"/></clipPath><rect x="496.78" y="32.61" width="6.35" height="128.19" fill="#111"/><path clip-path="url(#c17)" d="M495.13 33.03l1 -1l1 1l-1 1zM498.03 33.03l1 -1l1 1l-1 1zM500.93 33.03l1 -1l1 1l-1 1zM496.58 34.46l1 -1l1 1l-1 1zM499.48 34.46l1 -1l1 1l-1 1zM502.38 34.46l1 -1l1 1l-1 1zM495.13 35.88l1 -1l1 1l-1 1zM498.03 35.88l1 -1l1 1l-1 1zM500.93 35.88l1 -1l1 1l-1 1zM496.58 37.31l1 -1l1 1l-1 1zM499.48 37.31l1 -1l1 1l-1 1zM502.38 37.31l1 -1l1 1l-1 1zM495.13 38.74l1 -1l1 1l-1 1zM498.03 38.74l1 -1l1 1l-1 1zM500.93 38.74l1 -1l1 1l-1 1zM496.58 40.17l1 -1l1 1l-1 1zM499.48 40.17l1 -1l1 1l-1 1zM502.38 40.17l1 -1l1 1l-1 1zM495.13 41.60l1 -1l1 1l-1 1zM498.03 41.60l1 -1l1 1l-1 1zM500.93 41.60l1 -1l1 1l-1 1zM496.58 43.03l1 -1l1 1l-1 1zM499.48 43.03l1 -1l1 1l-1 1zM502.38 43.03l1 -1l1 1l-1 1zM495.13 44.46l1 -1l1 1l-1 1zM498.03 44.46l1 -1l1 1l-1 1zM500.93 44.46l1 -1l1 1l-1 1zM496.58 45.88l1 -1l1 1l-1 1zM499.48 45.88l1 -1l1 1l-1 1zM502.38 45.88l1 -1l1 1l-1 1zM495.13 47.31l1 -1l1 1l-1 1zM498.03 47.31l1 -1l1 1l-1 1zM500.93 47.31l1 -1l1 1l-1 1zM496.58 48.74l1 -1l1 1l-1 1zM499.48 48.74l1 -1l1 1l-1 1zM502.38 48.74l1 -1l1 1l-1 1zM495.13 50.17l1 -1l1 1l-1 1zM498.03 50.17l1 -1l1 1l-1 1zM500.93 50.17l1 -1l1 1l-1 1zM496.58 51.60l1 -1l1 1l-1 1zM499.48 51.60l1 -1l1 1l-1 1zM502.38 51.60l1 -1l1 1l-1 1zM495.13 53.03l1 -1l1 1l-1 1zM498.03 53.03l1 -1l1 1l-1 1zM500.93 53.03l1 -1l1 1l-1 1zM496.58 54.45l1 -1l1 1l-1 1zM499.48 54.45l1 -1l1 1l-1 1zM502.38 54.45l1 -1l1 1l-1 1zM495.13 55.88l1 -1l1 1l-1 1zM498.03 55.88l1 -1l1 1l-1 1zM500.93 55.88l1 -1l1 1l-1 1zM496.58 57.31l1 -1l1 1l-1 1zM499.48 57.31l1 -1l1 1l-1 1zM502.38 57.31l1 -1l1 1l-1 1zM495.13 58.74l1 -1l1 1l-1 1zM498.03 58.74l1 -1l1 1l-1 1zM500.93 58.74l1 -1l1 1l-1 1zM496.58 60.17l1 -1l1 1l-1 1zM499.48 60.17l1 -1l1 1l-1 1zM502.38 60.17l1 -1l1 1l-1 1zM495.13 61.60l1 -1l1 1l-1 1zM498.03 61.60l1 -1l1 1l-1 1zM500.93 61.60l1 -1l1 1l-1 1zM496.58 63.03l1 -1l1 1l-1 1zM499.48 63.03l1 -1l1 1l-1 1zM502.38 63.03l1 -1l1 1l-1 1zM495.13 64.45l1 -1l1 1l-1 1zM498.03 64.45l1 -1l1 1l-1 1zM500.93 64.45l1 -1l1 1l-1 1zM496.58 65.88l1 -1l1 1l-1 1zM499.48 65.88l1 -1l1 1l-1 1zM502.38 65.88l1 -1l1 1l-1 1zM495.13 67.31l1 -1l1 1l-1 1zM498.03 67.31l1 -1l1 1l-1 1zM500.93 67.31l1 -1l1 1l-1 1zM496.58 68.74l1 -1l1 1l-1 1zM499.48 68.74l1 -1l1 1l-1 1zM502.38 68.74l1 -1l1 1l-1 1zM495.13 70.17l1 -1l1 1l-1 1zM498.03 70.17l1 -1l1 1l-1 1zM500.93 70.17l1 -1l1 1l-1 1zM496.58 71.60l1 -1l1 1l-1 1zM499.48 71.60l1 -1l1 1l-1 1zM502.38 71.60l1 -1l1 1l-1 1zM495.13 73.03l1 -1l1 1l-1 1zM498.03 73.03l1 -1l1 1l-1 1zM500.93 73.03l1 -1l1 1l-1 1zM496.58 74.45l1 -1l1 1l-1 1zM499.48 74.45l1 -1l1 1l-1 1zM502.38 74.45l1 -1l1 1l-1 1zM495.13 75.88l1 -1l1 1l-1 1zM498.03 75.88l1 -1l1 1l-1 1zM500.93 75.88l1 -1l1 1l-1 1zM496.58 77.31l1 -1l1 1l-1 1zM499.48 77.31l1 -1l1 1l-1 1zM502.38 77.31l1 -1l1 1l-1 1zM495.13 78.74l1 -1l1 1l-1 1zM498.03 78.74l1 -1l1 1l-1 1zM500.93 78.74l1 -1l1 1l-1 1zM496.58 80.17l1 -1l1 1l-1 1zM499.48 80.17l1 -1l1 1l-1 1zM502.38 80.17l1 -1l1 1l-1 1zM495.13 81.60l1 -1l1 1l-1 1zM498.03 81.60l1 -1l1 1l-1 1zM500.93 81.60l1 -1l1 1l-1 1zM496.58 83.02l1 -1l1 1l-1 1zM499.48 83.02l1 -1l1 1l-1 1zM502.38 83.02l1 -1l1 1l-1 1zM495.13 84.45l1 -1l1 1l-1 1zM498.03 84.45l1 -1l1 1l-1 1zM500.93 84.45l1 -1l1 1l-1 1zM496.58 85.88l1 -1l1 1l-1 1zM499.48 85.88l1 -1l1 1l-1 1zM502.38 85.88l1 -1l1 1l-1 1zM495.13 87.31l1 -1l1 1l-1 1zM498.03 87.31l1 -1l1 1l-1 1zM500.93 87.31l1 -1l1 1l-1 1zM496.58 88.74l1 -1l1 1l-1 1zM499.48 88.74l1 -1l1 1l-1 1zM502.38 88.74l1 -1l1 1l-1 1zM495.13 90.17l1 -1l1 1l-1 1zM498.03 90.17l1 -1l1 1l-1 1zM500.93 90.17l1 -1l1 1l-1 1zM496.58 91.60l1 -1l1 1l-1 1zM499.48 91.60l1 -1l1 1l-1 1zM502.38 91.60l1 -1l1 1l-1 1zM495.13 93.02l1 -1l1 1l-1 1zM498.03 93.02l1 -1l1 1l-1 1zM500.93 93.02l1 -1l1 1l-1 1zM496.58 94.45l1 -1l1 1l-1 1zM499.48 94.45l1 -1l1 1l-1 1zM502.38 94.45l1 -1l1 1l-1 1zM495.13 95.88l1 -1l1 1l-1 1zM498.03 95.88l1 -1l1 1l-1 1zM500.93 95.88l1 -1l1 1l-1 1zM496.58 97.31l1 -1l1 1l-1 1zM499.48 97.31l1 -1l1 1l-1 1zM502.38 97.31l1 -1l1 1l-1 1zM495.13 98.74l1 -1l1 1l-1 1zM498.03 98.74l1 -1l1 1l-1 1zM500.93 98.74l1 -1l1 1l-1 1zM496.58 100.17l1 -1l1 1l-1 1zM499.48 100.17l1 -1l1 1l-1 1zM502.38 100.17l1 -1l1 1l-1 1zM495.13 101.59l1 -1l1 1l-1 1zM498.03 101.59l1 -1l1 1l-1 1zM500.93 101.59l1 -1l1 1l-1 1zM496.58 103.02l1 -1l1 1l-1 1zM499.48 103.02l1 -1l1 1l-1 1zM502.38 103.02l1 -1l1 1l-1 1zM495.13 104.45l1 -1l1 1l-1 1zM498.03 104.45l1 -1l1 1l-1 1zM500.93 104.45l1 -1l1 1l-1 1zM496.58 105.88l1 -1l1 1l-1 1zM499.48 105.88l1 -1l1 1l-1 1zM502.38 105.88l1 -1l1 1l-1 1zM495.13 107.31l1 -1l1 1l-1 1zM498.03 107.31l1 -1l1 1l-1 1zM500.93 107.31l1 -1l1 1l-1 1zM496.58 108.74l1 -1l1 1l-1 1zM499.48 108.74l1 -1l1 1l-1 1zM502.38 108.74l1 -1l1 1l-1 1zM495.13 110.17l1 -1l1 1l-1 1zM498.03 110.17l1 -1l1 1l-1 1zM500.93 110.17l1 -1l1 1l-1 1zM496.58 111.59l1 -1l1 1l-1 1zM499.48 111.59l1 -1l1 1l-1 1zM502.38 111.59l1 -1l1 1l-1 1zM495.13 113.02l1 -1l1 1l-1 1zM498.03 113.02l1 -1l1 1l-1 1zM500.93 113.02l1 -1l1 1l-1 1zM496.58 114.45l1 -1l1 1l-1 1zM499.48 114.45l1 -1l1 1l-1 1zM502.38 114.45l1 -1l1 1l-1 1zM495.13 115.88l1 -1l1 1l-1 1zM498.03 115.88l1 -1l1 1l-1 1zM500.93 115.88l1 -1l1 1l-1 1zM496.58 117.31l1 -1l1 1l-1 1zM499.48 117.31l1 -1l1 1l-1 1zM502.38 117.31l1 -1l1 1l-1 1zM495.13 118.74l1 -1l1 1l-1 1zM498.03 118.74l1 -1l1 1l-1 1zM500.93 118.74l1 -1l1 1l-1 1zM496.58 120.17l1 -1l1 1l-1 1zM499.48 120.17l1 -1l1 1l-1 1zM502.38 120.17l1 -1l1 1l-1 1zM495.13 121.59l1 -1l1 1l-1 1zM498.03 121.59l1 -1l1 1l-1 1zM500.93 121.59l1 -1l1 1l-1 1zM496.58 123.02l1 -1l1 1l-1 1zM499.48 123.02l1 -1l1 1l-1 1zM502.38 123.02l1 -1l1 1l-1 1zM495.13 124.45l1 -1l1 1l-1 1zM498.03 124.45l1 -1l1 1l-1 1zM500.93 124.45l1 -1l1 1l-1 1zM496.58 125.88l1 -1l1 1l-1 1zM499.48 125.88l1 -1l1 1l-1 1zM502.38 125.88l1 -1l1 1l-1 1zM495.13 127.31l1 -1l1 1l-1 1zM498.03 127.31l1 -1l1 1l-1 1zM500.93 127.31l1 -1l1 1l-1 1zM496.58 128.74l1 -1l1 1l-1 1zM499.48 128.74l1 -1l1 1l-1 1zM502.38 128.74l1 -1l1 1l-1 1zM495.13 130.16l1 -1l1 1l-1 1zM498.03 130.16l1 -1l1 1l-1 1zM500.93 130.16l1 -1l1 1l-1 1zM496.58 131.59l1 -1l1 1l-1 1zM499.48 131.59l1 -1l1 1l-1 1zM502.38 131.59l1 -1l1 1l-1 1zM495.13 133.02l1 -1l1 1l-1 1zM498.03 133.02l1 -1l1 1l-1 1zM500.93 133.02l1 -1l1 1l-1 1zM496.58 134.45l1 -1l1 1l-1 1zM499.48 134.45l1 -1l1 1l-1 1zM502.38 134.45l1 -1l1 1l-1 1zM495.13 135.88l1 -1l1 1l-1 1zM498.03 135.88l1 -1l1 1l-1 1zM500.93 135.88l1 -1l1 1l-1 1zM496.58 137.31l1 -1l1 1l-1 1zM499.48 137.31l1 -1l1 1l-1 1zM502.38 137.31l1 -1l1 1l-1 1zM495.13 138.74l1 -1l1 1l-1 1zM498.03 138.74l1 -1l1 1l-1 1zM500.93 138.74l1 -1l1 1l-1 1zM496.58 140.16l1 -1l1 1l-1 1zM499.48 140.16l1 -1l1 1l-1 1zM502.38 140.16l1 -1l1 1l-1 1zM495.13 141.59l1 -1l1 1l-1 1zM498.03 141.59l1 -1l1 1l-1 1zM500.93 141.59l1 -1l1 1l-1 1zM496.58 143.02l1 -1l1 1l-1 1zM499.48 143.02l1 -1l1 1l-1 1zM502.38 143.02l1 -1l1 1l-1 1zM495.13 144.45l1 -1l1 1l-1 1zM498.03 144.45l1 -1l1 1l-1 1zM500.93 144.45l1 -1l1 1l-1 1zM496.58 145.88l1 -1l1 1l-1 1zM499.48 145.88l1 -1l1 1l-1 1zM502.38 145.88l1 -1l1 1l-1 1zM495.13 147.31l1 -1l1 1l-1 1zM498.03 147.31l1 -1l1 1l-1 1zM500.93 147.31l1 -1l1 1l-1 1zM496.58 148.74l1 -1l1 1l-1 1zM499.48 148.74l1 -1l1 1l-1 1zM502.38 148.74l1 -1l1 1l-1 1zM495.13 150.16l1 -1l1 1l-1 1zM498.03 150.16l1 -1l1 1l-1 1zM500.93 150.16l1 -1l1 1l-1 1zM496.58 151.59l1 -1l1 1l-1 1zM499.48 151.59l1 -1l1 1l-1 1zM502.38 151.59l1 -1l1 1l-1 1zM495.13 153.02l1 -1l1 1l-1 1zM498.03 153.02l1 -1l1 1l-1 1zM500.93 153.02l1 -1l1 1l-1 1zM496.58 154.45l1 -1l1 1l-1 1zM499.48 154.45l1 -1l1 1l-1 1zM502.38 154.45l1 -1l1 1l-1 1zM495.13 155.88l1 -1l1 1l-1 1zM498.03 155.88l1 -1l1 1l-1 1zM500.93 155.88l1 -1l1 1l-1 1zM496.58 157.31l1 -1l1 1l-1 1zM499.48 157.31l1 -1l1 1l-1 1zM502.38 157.31l1 -1l1 1l-1 1zM495.13 158.74l1 -1l1 1l-1 1zM498.03 158.74l1 -1l1 1l-1 1zM500.93 158.74l1 -1l1 1l-1 1zM496.58 160.16l1 -1l1 1l-1 1zM499.48 160.16l1 -1l1 1l-1 1zM502.38 160.16l1 -1l1 1l-1 1zM495.13 161.59l1 -1l1 1l-1 1zM498.03 161.59l1 -1l1 1l-1 1zM500.93 161.59l1 -1l1 1l-1 1z" fill="#fff"/><rect x="496.78" y="32.61" width="6.35" height="128.19" fill="none" stroke="#000" stroke-width="1.30"/>
<path d="M510.05 32.36V32.87M507.55 32.36H512.55M507.55 32.87H512.55" stroke="#000" stroke-width="1.1" fill="none"/>
<rect x="506.88" y="32.61" width="6.35" height="128.19" fill="#4a4a4a" stroke="#000" stroke-width="1.30"/>
<path d="M510.05 32.61V32.87M507.55 32.87H512.55" stroke="#000" stroke-width="1.1" fill="none"/>
<path d="M305.60 161.40V19.20H518.00V160.80" stroke="#000" stroke-width="1.25" fill="none"/>
<path d="M300.40 160.80H518.60" stroke="#000" stroke-width="1.25" fill="none"/>
<path d="M300.40 32.10H305.60" stroke="#000" stroke-width="1.25"/>
<text x="300.60" y="35.70" text-anchor="end" class="t">100</text>
<path d="M300.40 96.45H305.60" stroke="#000" stroke-width="1.25"/>
<text x="300.60" y="100.05" text-anchor="end" class="t">50</text>
<text x="300.60" y="164.40" text-anchor="end" class="t">0</text>
<text transform="translate(318.68 174.60) rotate(-45)" text-anchor="end" class="x">Buffer control</text>
<text transform="translate(346.73 173.40) rotate(-45)" text-anchor="end" class="x">Thrombin ( +ve control)</text>
<text transform="translate(374.98 171.40) rotate(-45)" text-anchor="end" class="x">UHRA-8</text>
<text transform="translate(401.52 171.40) rotate(-45)" text-anchor="end" class="x">UHRA-9</text>
<text transform="translate(428.18 171.20) rotate(-45)" text-anchor="end" class="x">UHRA-10</text>
<text transform="translate(455.03 171.10) rotate(-45)" text-anchor="end" class="x">UHRA-14</text>
<text transform="translate(480.18 173.30) rotate(-45)" text-anchor="end" class="x">Protamine</text>
<text transform="translate(507.43 171.50) rotate(-45)" text-anchor="end" class="x">PEI</text>
<text transform="translate(275.60 90.20) rotate(-90)" text-anchor="middle" class="y" style="font-size:10.25px">% of CD62P +ve platelets</text>
<text x="263.60" y="13.70" class="L">B</text>
<clipPath id="c18"><rect x="418.60" y="30.80" width="15.20" height="4.40"/></clipPath><rect x="418.60" y="30.80" width="15.20" height="4.40" fill="#111"/><path clip-path="url(#c18)" d="M417.00 31.10l1 -1l1 1l-1 1zM419.90 31.10l1 -1l1 1l-1 1zM422.80 31.10l1 -1l1 1l-1 1zM425.70 31.10l1 -1l1 1l-1 1zM428.60 31.10l1 -1l1 1l-1 1zM431.50 31.10l1 -1l1 1l-1 1zM418.45 32.53l1 -1l1 1l-1 1zM421.35 32.53l1 -1l1 1l-1 1zM424.25 32.53l1 -1l1 1l-1 1zM427.15 32.53l1 -1l1 1l-1 1zM430.05 32.53l1 -1l1 1l-1 1zM432.95 32.53l1 -1l1 1l-1 1zM417.00 33.96l1 -1l1 1l-1 1zM419.90 33.96l1 -1l1 1l-1 1zM422.80 33.96l1 -1l1 1l-1 1zM425.70 33.96l1 -1l1 1l-1 1zM428.60 33.96l1 -1l1 1l-1 1zM431.50 33.96l1 -1l1 1l-1 1zM418.45 35.39l1 -1l1 1l-1 1zM421.35 35.39l1 -1l1 1l-1 1zM424.25 35.39l1 -1l1 1l-1 1zM427.15 35.39l1 -1l1 1l-1 1zM430.05 35.39l1 -1l1 1l-1 1zM432.95 35.39l1 -1l1 1l-1 1z" fill="#fff"/><rect x="418.60" y="30.80" width="15.20" height="4.40" fill="none" stroke="#000" stroke-width="1.20"/>
<text x="442.60" y="35.80" class="g">1 mg/mL</text>
<rect x="418.60" y="47.20" width="15.2" height="4.4" fill="#4a4a4a" stroke="#000" stroke-width="1.2"/>
<text x="442.60" y="52.20" class="g">2 mg/mL</text>
</svg>
</body></html>
